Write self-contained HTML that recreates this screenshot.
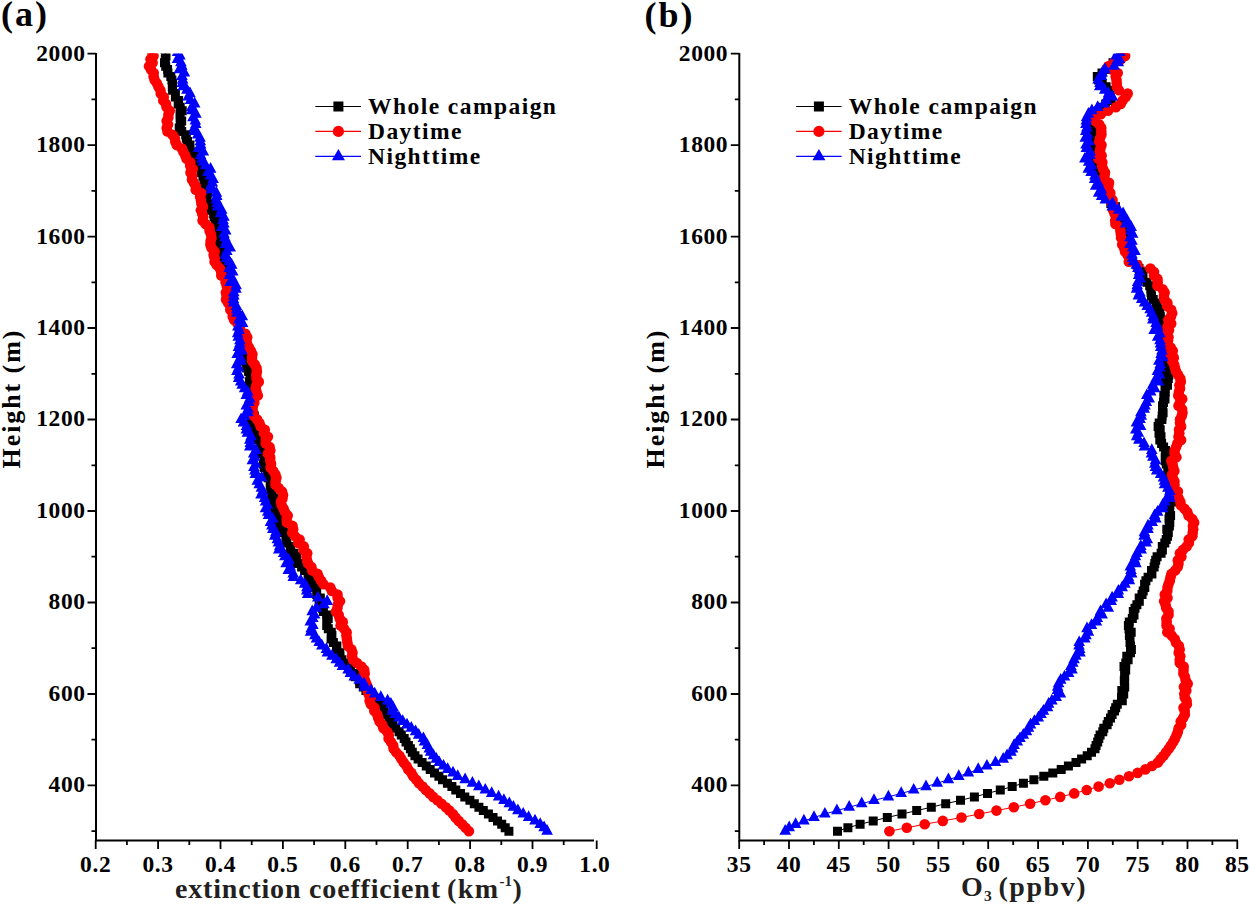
<!DOCTYPE html>
<html><head><meta charset="utf-8"><style>html,body{margin:0;padding:0;background:#fff;width:1250px;height:905px;overflow:hidden}svg{display:block}</style></head>
<body><svg width="1250" height="905" viewBox="0 0 1250 905"><defs><clipPath id="ca"><rect x="90" y="53.6" width="520" height="800"/></clipPath><clipPath id="cb"><rect x="735" y="53.6" width="515" height="800"/></clipPath></defs><style>.tk{font-family:'Liberation Serif',serif;font-weight:bold;font-size:23.5px;letter-spacing:0.6px}.lg{font-family:'Liberation Serif',serif;font-weight:bold;font-size:23.5px;letter-spacing:1.45px}.ti{font-family:'Liberation Serif',serif;font-weight:bold;font-size:28px;fill:#231f20}.yt{font-family:'Liberation Serif',serif;font-weight:bold;font-size:26px}.pl{font-family:'Liberation Serif',serif;font-weight:bold;font-size:36px;letter-spacing:2px}</style><path d="M96 53 V840.4 H594" fill="none" stroke="#000" stroke-width="2"/><path d="M87.5 785.4H96M87.5 694H96M87.5 602.5H96M87.5 511H96M87.5 419.5H96M87.5 328H96M87.5 236.6H96M87.5 145.1H96M87.5 53.6H96M91.5 831.2H96M91.5 739.7H96M91.5 648.2H96M91.5 556.7H96M91.5 465.3H96M91.5 373.8H96M91.5 282.3H96M91.5 190.8H96M91.5 99.3H96M95.7 840.4V848.9M158.1 840.4V848.9M220.5 840.4V848.9M282.9 840.4V848.9M345.3 840.4V848.9M407.7 840.4V848.9M470.1 840.4V848.9M532.5 840.4V848.9M596.7 840.4V848.9M126.9 840.4V844.9M189.3 840.4V844.9M251.7 840.4V844.9M314.1 840.4V844.9M376.5 840.4V844.9M438.9 840.4V844.9M501.3 840.4V844.9M563.7 840.4V844.9" stroke="#000" stroke-width="1.8"/><text x="85.6" y="792.3" text-anchor="end" class="tk">400</text><text x="85.6" y="700.9" text-anchor="end" class="tk">600</text><text x="85.6" y="609.4" text-anchor="end" class="tk">800</text><text x="85.6" y="517.9" text-anchor="end" class="tk">1000</text><text x="85.6" y="426.4" text-anchor="end" class="tk">1200</text><text x="85.6" y="334.9" text-anchor="end" class="tk">1400</text><text x="85.6" y="243.5" text-anchor="end" class="tk">1600</text><text x="85.6" y="152" text-anchor="end" class="tk">1800</text><text x="85.6" y="60.5" text-anchor="end" class="tk">2000</text><text x="95.7" y="871.8" text-anchor="middle" class="tk">0.2</text><text x="158.1" y="871.8" text-anchor="middle" class="tk">0.3</text><text x="220.5" y="871.8" text-anchor="middle" class="tk">0.4</text><text x="282.9" y="871.8" text-anchor="middle" class="tk">0.5</text><text x="345.3" y="871.8" text-anchor="middle" class="tk">0.6</text><text x="407.7" y="871.8" text-anchor="middle" class="tk">0.7</text><text x="470.1" y="871.8" text-anchor="middle" class="tk">0.8</text><text x="532.5" y="871.8" text-anchor="middle" class="tk">0.9</text><text x="594.9" y="871.8" text-anchor="middle" class="tk">1.0</text><path d="M739.3 53 V840.4 H1238" fill="none" stroke="#000" stroke-width="2"/><path d="M730.8 785.4H739.3M730.8 694H739.3M730.8 602.5H739.3M730.8 511H739.3M730.8 419.5H739.3M730.8 328H739.3M730.8 236.6H739.3M730.8 145.1H739.3M730.8 53.6H739.3M734.8 831.2H739.3M734.8 739.7H739.3M734.8 648.2H739.3M734.8 556.7H739.3M734.8 465.3H739.3M734.8 373.8H739.3M734.8 282.3H739.3M734.8 190.8H739.3M734.8 99.3H739.3M739.2 840.4V848.9M789 840.4V848.9M838.8 840.4V848.9M888.6 840.4V848.9M938.4 840.4V848.9M988.2 840.4V848.9M1038.1 840.4V848.9M1087.9 840.4V848.9M1137.7 840.4V848.9M1187.5 840.4V848.9M1237.3 840.4V848.9M764.1 840.4V844.9M813.9 840.4V844.9M863.7 840.4V844.9M913.5 840.4V844.9M963.3 840.4V844.9M1013.2 840.4V844.9M1063 840.4V844.9M1112.8 840.4V844.9M1162.6 840.4V844.9M1212.4 840.4V844.9" stroke="#000" stroke-width="1.8"/><text x="728.2" y="792.3" text-anchor="end" class="tk">400</text><text x="728.2" y="700.9" text-anchor="end" class="tk">600</text><text x="728.2" y="609.4" text-anchor="end" class="tk">800</text><text x="728.2" y="517.9" text-anchor="end" class="tk">1000</text><text x="728.2" y="426.4" text-anchor="end" class="tk">1200</text><text x="728.2" y="334.9" text-anchor="end" class="tk">1400</text><text x="728.2" y="243.5" text-anchor="end" class="tk">1600</text><text x="728.2" y="152" text-anchor="end" class="tk">1800</text><text x="728.2" y="60.5" text-anchor="end" class="tk">2000</text><text x="739.2" y="871.8" text-anchor="middle" class="tk">35</text><text x="789" y="871.8" text-anchor="middle" class="tk">40</text><text x="838.8" y="871.8" text-anchor="middle" class="tk">45</text><text x="888.6" y="871.8" text-anchor="middle" class="tk">50</text><text x="938.4" y="871.8" text-anchor="middle" class="tk">55</text><text x="988.2" y="871.8" text-anchor="middle" class="tk">60</text><text x="1038.1" y="871.8" text-anchor="middle" class="tk">65</text><text x="1087.9" y="871.8" text-anchor="middle" class="tk">70</text><text x="1137.7" y="871.8" text-anchor="middle" class="tk">75</text><text x="1187.5" y="871.8" text-anchor="middle" class="tk">80</text><text x="1237.3" y="871.8" text-anchor="middle" class="tk">85</text><g clip-path="url(#ca)"><polyline fill="none" stroke="#000" stroke-width="1" points="508.9,831.2 505.2,827.7 501.7,824.3 497.5,820.9 493,817.5 488.4,814 483.3,810.6 478.9,807.2 474.3,803.7 469.9,800.3 464.8,796.9 460.5,793.4 455.8,790 451.9,786.6 447.4,783.2 442.5,779.7 438.9,776.3 434.5,772.9 430.2,769.4 426.3,766 422.1,762.6 418.1,759.1 414.9,755.7 412.3,752.3 410.4,748.8 408.4,745.4 406,742 404.2,738.6 401.3,735.1 399.1,731.7 395.6,728.3 393,724.8 390.5,721.4 389,718 386.6,714.5 384.2,711.1 384,707.7 380.8,704.3 377.2,700.8 373.7,697.4 369.3,694 365.9,690.5 363.3,687.1 359.7,683.7 359.4,680.2 355.3,676.8 354.4,673.4 350.4,669.9 350.1,666.5 347.4,663.1 341.9,659.7 340,656.2 339.8,652.8 336.5,649.4 336.9,645.9 333.4,642.5 331.1,639.1 331.9,635.6 331.3,632.2 328.3,628.8 326.7,625.4 326.8,621.9 328.2,618.5 326.6,615.1 323.4,611.6 322.5,608.2 320.6,604.8 319.1,601.3 320.3,597.9 316.7,594.5 316.7,591 314.6,587.6 311.9,584.2 312.1,580.8 308.1,577.3 308.2,573.9 304.6,570.5 301.6,567 297.5,563.6 295.8,560.2 296.5,556.7 294,553.3 290.3,549.9 290.7,546.4 286.8,543 285.9,539.6 286,536.2 283.7,532.7 280.6,529.3 282.7,525.9 278.8,522.4 277.8,519 278.6,515.6 276.1,512.1 275,508.7 273.3,505.3 272.5,501.9 273.5,498.4 271.6,495 272.2,491.6 270.7,488.1 270.2,484.7 271,481.3 268.3,477.8 267.6,474.4 267.6,471 264.2,467.5 263.3,464.1 265.2,460.7 264.1,457.3 261.3,453.8 260.1,450.4 261,447 260.7,443.5 257,440.1 258.6,436.7 257.5,433.2 255.7,429.8 254.3,426.4 252.4,423 251.5,419.5 254.4,416.1 251.6,412.7 253,409.2 251.1,405.8 253.2,402.4 252.3,398.9 251.3,395.5 250.7,392.1 252.2,388.6 249.3,385.2 249.4,381.8 250.1,378.4 250.3,374.9 248.6,371.5 246.6,368.1 248.2,364.6 245,361.2 243.7,357.8 244,354.3 244,350.9 241.9,347.5 241.7,344 241.8,340.6 241.9,337.2 239.6,333.8 239.4,330.3 240.3,326.9 239.6,323.5 237.4,320 236.5,316.6 235.1,313.2 232.8,309.7 231.7,306.3 230.9,302.9 233.4,299.5 231.9,296 232.2,292.6 228.2,289.2 229.8,285.7 228.6,282.3 228.8,278.9 226.2,275.4 227.6,272 223.2,268.6 223.8,265.1 223.6,261.7 223.6,258.3 222.3,254.9 221.6,251.4 221.2,248 220.7,244.6 217.6,241.1 217.8,237.7 217.5,234.3 216.3,230.8 214.4,227.4 215.5,224 215.5,220.6 214.1,217.1 213.6,213.7 211.3,210.3 210.6,206.8 209.2,203.4 205.9,200 207.1,196.5 207.8,193.1 206.8,189.7 205.7,186.2 203.9,182.8 204.6,179.4 202.9,176 201.2,172.5 201.4,169.1 197.5,165.7 198.7,162.2 194.7,158.8 194.9,155.4 192.7,151.9 190,148.5 189.9,145.1 187.5,141.6 186.3,138.2 185.7,134.8 181.7,131.4 179.2,127.9 180.3,124.5 181.7,121.1 180.1,117.6 180,114.2 182.2,110.8 180.2,107.3 178.2,103.9 178.6,100.5 175.4,97.1 175.4,93.6 172.6,90.2 172.3,86.8 172.6,83.3 171.9,79.9 170.8,76.5 167.9,73 167.6,69.6 165.7,66.2 164.5,62.7 165.3,59.3 166,55.9 165.5,52.5 164.4,49 164.8,45.6"/><path fill="#000" d="M504.4 826.7h9v9h-9zM500.7 823.2h9v9h-9zM497.2 819.8h9v9h-9zM493 816.4h9v9h-9zM488.5 813h9v9h-9zM483.9 809.5h9v9h-9zM478.8 806.1h9v9h-9zM474.4 802.7h9v9h-9zM469.8 799.2h9v9h-9zM465.4 795.8h9v9h-9zM460.3 792.4h9v9h-9zM456 788.9h9v9h-9zM451.3 785.5h9v9h-9zM447.4 782.1h9v9h-9zM442.9 778.7h9v9h-9zM438 775.2h9v9h-9zM434.4 771.8h9v9h-9zM430 768.4h9v9h-9zM425.7 764.9h9v9h-9zM421.8 761.5h9v9h-9zM417.6 758.1h9v9h-9zM413.6 754.6h9v9h-9zM410.4 751.2h9v9h-9zM407.8 747.8h9v9h-9zM405.9 744.3h9v9h-9zM403.9 740.9h9v9h-9zM401.5 737.5h9v9h-9zM399.7 734.1h9v9h-9zM396.8 730.6h9v9h-9zM394.6 727.2h9v9h-9zM391.1 723.8h9v9h-9zM388.5 720.3h9v9h-9zM386 716.9h9v9h-9zM384.5 713.5h9v9h-9zM382.1 710h9v9h-9zM379.7 706.6h9v9h-9zM379.5 703.2h9v9h-9zM376.3 699.8h9v9h-9zM372.7 696.3h9v9h-9zM369.2 692.9h9v9h-9zM364.8 689.5h9v9h-9zM361.4 686h9v9h-9zM358.8 682.6h9v9h-9zM355.2 679.2h9v9h-9zM354.9 675.7h9v9h-9zM350.8 672.3h9v9h-9zM349.9 668.9h9v9h-9zM345.9 665.4h9v9h-9zM345.6 662h9v9h-9zM342.9 658.6h9v9h-9zM337.4 655.2h9v9h-9zM335.5 651.7h9v9h-9zM335.3 648.3h9v9h-9zM332 644.9h9v9h-9zM332.4 641.4h9v9h-9zM328.9 638h9v9h-9zM326.6 634.6h9v9h-9zM327.4 631.1h9v9h-9zM326.8 627.7h9v9h-9zM323.8 624.3h9v9h-9zM322.2 620.9h9v9h-9zM322.3 617.4h9v9h-9zM323.7 614h9v9h-9zM322.1 610.6h9v9h-9zM318.9 607.1h9v9h-9zM318 603.7h9v9h-9zM316.1 600.3h9v9h-9zM314.6 596.8h9v9h-9zM315.8 593.4h9v9h-9zM312.2 590h9v9h-9zM312.2 586.5h9v9h-9zM310.1 583.1h9v9h-9zM307.4 579.7h9v9h-9zM307.6 576.3h9v9h-9zM303.6 572.8h9v9h-9zM303.7 569.4h9v9h-9zM300.1 566h9v9h-9zM297.1 562.5h9v9h-9zM293 559.1h9v9h-9zM291.3 555.7h9v9h-9zM292 552.2h9v9h-9zM289.5 548.8h9v9h-9zM285.8 545.4h9v9h-9zM286.2 541.9h9v9h-9zM282.3 538.5h9v9h-9zM281.4 535.1h9v9h-9zM281.5 531.7h9v9h-9zM279.2 528.2h9v9h-9zM276.1 524.8h9v9h-9zM278.2 521.4h9v9h-9zM274.3 517.9h9v9h-9zM273.3 514.5h9v9h-9zM274.1 511.1h9v9h-9zM271.6 507.6h9v9h-9zM270.5 504.2h9v9h-9zM268.8 500.8h9v9h-9zM268 497.4h9v9h-9zM269 493.9h9v9h-9zM267.1 490.5h9v9h-9zM267.7 487.1h9v9h-9zM266.2 483.6h9v9h-9zM265.7 480.2h9v9h-9zM266.5 476.8h9v9h-9zM263.8 473.3h9v9h-9zM263.1 469.9h9v9h-9zM263.1 466.5h9v9h-9zM259.7 463h9v9h-9zM258.8 459.6h9v9h-9zM260.7 456.2h9v9h-9zM259.6 452.8h9v9h-9zM256.8 449.3h9v9h-9zM255.6 445.9h9v9h-9zM256.5 442.5h9v9h-9zM256.2 439h9v9h-9zM252.5 435.6h9v9h-9zM254.1 432.2h9v9h-9zM253 428.7h9v9h-9zM251.2 425.3h9v9h-9zM249.8 421.9h9v9h-9zM247.9 418.5h9v9h-9zM247 415h9v9h-9zM249.9 411.6h9v9h-9zM247.1 408.2h9v9h-9zM248.5 404.7h9v9h-9zM246.6 401.3h9v9h-9zM248.7 397.9h9v9h-9zM247.8 394.4h9v9h-9zM246.8 391h9v9h-9zM246.2 387.6h9v9h-9zM247.7 384.1h9v9h-9zM244.8 380.7h9v9h-9zM244.9 377.3h9v9h-9zM245.6 373.9h9v9h-9zM245.8 370.4h9v9h-9zM244.1 367h9v9h-9zM242.1 363.6h9v9h-9zM243.7 360.1h9v9h-9zM240.5 356.7h9v9h-9zM239.2 353.3h9v9h-9zM239.5 349.8h9v9h-9zM239.5 346.4h9v9h-9zM237.4 343h9v9h-9zM237.2 339.5h9v9h-9zM237.3 336.1h9v9h-9zM237.4 332.7h9v9h-9zM235.1 329.3h9v9h-9zM234.9 325.8h9v9h-9zM235.8 322.4h9v9h-9zM235.1 319h9v9h-9zM232.9 315.5h9v9h-9zM232 312.1h9v9h-9zM230.6 308.7h9v9h-9zM228.3 305.2h9v9h-9zM227.2 301.8h9v9h-9zM226.4 298.4h9v9h-9zM228.9 295h9v9h-9zM227.4 291.5h9v9h-9zM227.7 288.1h9v9h-9zM223.7 284.7h9v9h-9zM225.3 281.2h9v9h-9zM224.1 277.8h9v9h-9zM224.3 274.4h9v9h-9zM221.7 270.9h9v9h-9zM223.1 267.5h9v9h-9zM218.7 264.1h9v9h-9zM219.3 260.6h9v9h-9zM219.1 257.2h9v9h-9zM219.1 253.8h9v9h-9zM217.8 250.4h9v9h-9zM217.1 246.9h9v9h-9zM216.7 243.5h9v9h-9zM216.2 240.1h9v9h-9zM213.1 236.6h9v9h-9zM213.3 233.2h9v9h-9zM213 229.8h9v9h-9zM211.8 226.3h9v9h-9zM209.9 222.9h9v9h-9zM211 219.5h9v9h-9zM211 216.1h9v9h-9zM209.6 212.6h9v9h-9zM209.1 209.2h9v9h-9zM206.8 205.8h9v9h-9zM206.1 202.3h9v9h-9zM204.7 198.9h9v9h-9zM201.4 195.5h9v9h-9zM202.6 192h9v9h-9zM203.3 188.6h9v9h-9zM202.3 185.2h9v9h-9zM201.2 181.7h9v9h-9zM199.4 178.3h9v9h-9zM200.1 174.9h9v9h-9zM198.4 171.5h9v9h-9zM196.7 168h9v9h-9zM196.9 164.6h9v9h-9zM193 161.2h9v9h-9zM194.2 157.7h9v9h-9zM190.2 154.3h9v9h-9zM190.4 150.9h9v9h-9zM188.2 147.4h9v9h-9zM185.5 144h9v9h-9zM185.4 140.6h9v9h-9zM183 137.1h9v9h-9zM181.8 133.7h9v9h-9zM181.2 130.3h9v9h-9zM177.2 126.9h9v9h-9zM174.7 123.4h9v9h-9zM175.8 120h9v9h-9zM177.2 116.6h9v9h-9zM175.6 113.1h9v9h-9zM175.5 109.7h9v9h-9zM177.7 106.3h9v9h-9zM175.7 102.8h9v9h-9zM173.7 99.4h9v9h-9zM174.1 96h9v9h-9zM170.9 92.6h9v9h-9zM170.9 89.1h9v9h-9zM168.1 85.7h9v9h-9zM167.8 82.3h9v9h-9zM168.1 78.8h9v9h-9zM167.4 75.4h9v9h-9zM166.3 72h9v9h-9zM163.4 68.5h9v9h-9zM163.1 65.1h9v9h-9zM161.2 61.7h9v9h-9zM160 58.2h9v9h-9zM160.8 54.8h9v9h-9zM161.5 51.4h9v9h-9zM161 48h9v9h-9zM159.9 44.5h9v9h-9zM160.3 41.1h9v9h-9z"/><polyline fill="none" stroke="#f00" stroke-width="1" points="468.9,831.2 465.6,827.7 462.2,824.3 458.7,820.9 455.6,817.5 452.9,814 449.4,810.6 445.8,807.2 441.6,803.7 437.4,800.3 433.2,796.9 429.7,793.4 425.8,790 422.6,786.6 418.9,783.2 416.3,779.7 413.1,776.3 411.4,772.9 408.3,769.4 406.5,766 403.7,762.6 401.4,759.1 399.5,755.7 396.1,752.3 393.6,748.8 393.2,745.4 391,742 388.6,738.6 388.8,735.1 387.2,731.7 383.4,728.3 382.3,724.8 379.6,721.4 378.2,718 377.3,714.5 374.3,711.1 374.5,707.7 370.8,704.3 369.6,700.8 370.9,697.4 368.5,694 367.8,690.5 367.7,687.1 366.3,683.7 365,680.2 362.5,676.8 364.7,673.4 364.2,669.9 361.4,666.5 357,663.1 353,659.7 352,656.2 352.5,652.8 351.4,649.4 347.9,645.9 347.4,642.5 346.9,639.1 346.4,635.6 346.6,632.2 344.1,628.8 340.6,625.4 342.8,621.9 339.7,618.5 338.7,615.1 336,611.6 337.4,608.2 337.8,604.8 340,601.3 337.6,597.9 337.5,594.5 331.9,591 330.3,587.6 323.5,584.2 321.2,580.8 318.9,577.3 317.6,573.9 312.3,570.5 311.4,567 308.1,563.6 307,560.2 306.4,556.7 307.2,553.3 303.6,549.9 303.8,546.4 298.2,543 299.6,539.6 295,536.2 292.2,532.7 293.2,529.3 292.5,525.9 286.9,522.4 286.6,519 287.7,515.6 284.9,512.1 283.6,508.7 281.7,505.3 280.9,501.9 282.5,498.4 283.1,495 282,491.6 278.7,488.1 275.5,484.7 275.6,481.3 276.4,477.8 275.4,474.4 273.3,471 270.5,467.5 271.1,464.1 270.2,460.7 270.2,457.3 267.9,453.8 270.3,450.4 269.6,447 265.8,443.5 265.8,440.1 267.9,436.7 263.9,433.2 264.8,429.8 260.7,426.4 259.4,423 257.2,419.5 253.8,416.1 253.1,412.7 251.9,409.2 252.9,405.8 254.3,402.4 253.1,398.9 257.8,395.5 256.6,392.1 255.7,388.6 256.4,385.2 258.8,381.8 256.6,378.4 256.3,374.9 256.9,371.5 256.5,368.1 254.8,364.6 252.2,361.2 252,357.8 252.4,354.3 250.9,350.9 249,347.5 247.1,344 246.4,340.6 247.2,337.2 245.4,333.8 239.8,330.3 239.9,326.9 237.6,323.5 234.1,320 232.7,316.6 232.7,313.2 230.3,309.7 230.7,306.3 228.1,302.9 226.1,299.5 226.6,296 225.9,292.6 228.2,289.2 226.7,285.7 225.6,282.3 225.5,278.9 221.3,275.4 221.2,272 220,268.6 216.7,265.1 214.6,261.7 214.7,258.3 213.6,254.9 214.6,251.4 211.5,248 210.4,244.6 210.6,241.1 211.5,237.7 210.9,234.3 209.6,230.8 209.4,227.4 205.5,224 202.6,220.6 203.3,217.1 202.2,213.7 200.9,210.3 203,206.8 201.4,203.4 200.9,200 200.1,196.5 201.4,193.1 195.7,189.7 195.8,186.2 193.9,182.8 192,179.4 192.2,176 190.5,172.5 192.8,169.1 190.2,165.7 190.3,162.2 186.5,158.8 185.3,155.4 183.4,151.9 181.9,148.5 176.7,145.1 175.3,141.6 174.8,138.2 172.4,134.8 167.5,131.4 166.7,127.9 168,124.5 166.7,121.1 168.3,117.6 168.5,114.2 169.7,110.8 166.6,107.3 166,103.9 163.3,100.5 163.8,97.1 160.8,93.6 160.4,90.2 158.5,86.8 156.8,83.3 154.6,79.9 153.6,76.5 153.7,73 151,69.6 149,66.2 152.6,62.7 150.5,59.3 153.5,55.9 152.1,52.5 151.2,49 153.5,45.6"/><g fill="#f00"><circle cx="468.9" cy="831.2" r="5.3"/><circle cx="465.6" cy="827.7" r="5.3"/><circle cx="462.2" cy="824.3" r="5.3"/><circle cx="458.7" cy="820.9" r="5.3"/><circle cx="455.6" cy="817.5" r="5.3"/><circle cx="452.9" cy="814" r="5.3"/><circle cx="449.4" cy="810.6" r="5.3"/><circle cx="445.8" cy="807.2" r="5.3"/><circle cx="441.6" cy="803.7" r="5.3"/><circle cx="437.4" cy="800.3" r="5.3"/><circle cx="433.2" cy="796.9" r="5.3"/><circle cx="429.7" cy="793.4" r="5.3"/><circle cx="425.8" cy="790" r="5.3"/><circle cx="422.6" cy="786.6" r="5.3"/><circle cx="418.9" cy="783.2" r="5.3"/><circle cx="416.3" cy="779.7" r="5.3"/><circle cx="413.1" cy="776.3" r="5.3"/><circle cx="411.4" cy="772.9" r="5.3"/><circle cx="408.3" cy="769.4" r="5.3"/><circle cx="406.5" cy="766" r="5.3"/><circle cx="403.7" cy="762.6" r="5.3"/><circle cx="401.4" cy="759.1" r="5.3"/><circle cx="399.5" cy="755.7" r="5.3"/><circle cx="396.1" cy="752.3" r="5.3"/><circle cx="393.6" cy="748.8" r="5.3"/><circle cx="393.2" cy="745.4" r="5.3"/><circle cx="391" cy="742" r="5.3"/><circle cx="388.6" cy="738.6" r="5.3"/><circle cx="388.8" cy="735.1" r="5.3"/><circle cx="387.2" cy="731.7" r="5.3"/><circle cx="383.4" cy="728.3" r="5.3"/><circle cx="382.3" cy="724.8" r="5.3"/><circle cx="379.6" cy="721.4" r="5.3"/><circle cx="378.2" cy="718" r="5.3"/><circle cx="377.3" cy="714.5" r="5.3"/><circle cx="374.3" cy="711.1" r="5.3"/><circle cx="374.5" cy="707.7" r="5.3"/><circle cx="370.8" cy="704.3" r="5.3"/><circle cx="369.6" cy="700.8" r="5.3"/><circle cx="370.9" cy="697.4" r="5.3"/><circle cx="368.5" cy="694" r="5.3"/><circle cx="367.8" cy="690.5" r="5.3"/><circle cx="367.7" cy="687.1" r="5.3"/><circle cx="366.3" cy="683.7" r="5.3"/><circle cx="365" cy="680.2" r="5.3"/><circle cx="362.5" cy="676.8" r="5.3"/><circle cx="364.7" cy="673.4" r="5.3"/><circle cx="364.2" cy="669.9" r="5.3"/><circle cx="361.4" cy="666.5" r="5.3"/><circle cx="357" cy="663.1" r="5.3"/><circle cx="353" cy="659.7" r="5.3"/><circle cx="352" cy="656.2" r="5.3"/><circle cx="352.5" cy="652.8" r="5.3"/><circle cx="351.4" cy="649.4" r="5.3"/><circle cx="347.9" cy="645.9" r="5.3"/><circle cx="347.4" cy="642.5" r="5.3"/><circle cx="346.9" cy="639.1" r="5.3"/><circle cx="346.4" cy="635.6" r="5.3"/><circle cx="346.6" cy="632.2" r="5.3"/><circle cx="344.1" cy="628.8" r="5.3"/><circle cx="340.6" cy="625.4" r="5.3"/><circle cx="342.8" cy="621.9" r="5.3"/><circle cx="339.7" cy="618.5" r="5.3"/><circle cx="338.7" cy="615.1" r="5.3"/><circle cx="336" cy="611.6" r="5.3"/><circle cx="337.4" cy="608.2" r="5.3"/><circle cx="337.8" cy="604.8" r="5.3"/><circle cx="340" cy="601.3" r="5.3"/><circle cx="337.6" cy="597.9" r="5.3"/><circle cx="337.5" cy="594.5" r="5.3"/><circle cx="331.9" cy="591" r="5.3"/><circle cx="330.3" cy="587.6" r="5.3"/><circle cx="323.5" cy="584.2" r="5.3"/><circle cx="321.2" cy="580.8" r="5.3"/><circle cx="318.9" cy="577.3" r="5.3"/><circle cx="317.6" cy="573.9" r="5.3"/><circle cx="312.3" cy="570.5" r="5.3"/><circle cx="311.4" cy="567" r="5.3"/><circle cx="308.1" cy="563.6" r="5.3"/><circle cx="307" cy="560.2" r="5.3"/><circle cx="306.4" cy="556.7" r="5.3"/><circle cx="307.2" cy="553.3" r="5.3"/><circle cx="303.6" cy="549.9" r="5.3"/><circle cx="303.8" cy="546.4" r="5.3"/><circle cx="298.2" cy="543" r="5.3"/><circle cx="299.6" cy="539.6" r="5.3"/><circle cx="295" cy="536.2" r="5.3"/><circle cx="292.2" cy="532.7" r="5.3"/><circle cx="293.2" cy="529.3" r="5.3"/><circle cx="292.5" cy="525.9" r="5.3"/><circle cx="286.9" cy="522.4" r="5.3"/><circle cx="286.6" cy="519" r="5.3"/><circle cx="287.7" cy="515.6" r="5.3"/><circle cx="284.9" cy="512.1" r="5.3"/><circle cx="283.6" cy="508.7" r="5.3"/><circle cx="281.7" cy="505.3" r="5.3"/><circle cx="280.9" cy="501.9" r="5.3"/><circle cx="282.5" cy="498.4" r="5.3"/><circle cx="283.1" cy="495" r="5.3"/><circle cx="282" cy="491.6" r="5.3"/><circle cx="278.7" cy="488.1" r="5.3"/><circle cx="275.5" cy="484.7" r="5.3"/><circle cx="275.6" cy="481.3" r="5.3"/><circle cx="276.4" cy="477.8" r="5.3"/><circle cx="275.4" cy="474.4" r="5.3"/><circle cx="273.3" cy="471" r="5.3"/><circle cx="270.5" cy="467.5" r="5.3"/><circle cx="271.1" cy="464.1" r="5.3"/><circle cx="270.2" cy="460.7" r="5.3"/><circle cx="270.2" cy="457.3" r="5.3"/><circle cx="267.9" cy="453.8" r="5.3"/><circle cx="270.3" cy="450.4" r="5.3"/><circle cx="269.6" cy="447" r="5.3"/><circle cx="265.8" cy="443.5" r="5.3"/><circle cx="265.8" cy="440.1" r="5.3"/><circle cx="267.9" cy="436.7" r="5.3"/><circle cx="263.9" cy="433.2" r="5.3"/><circle cx="264.8" cy="429.8" r="5.3"/><circle cx="260.7" cy="426.4" r="5.3"/><circle cx="259.4" cy="423" r="5.3"/><circle cx="257.2" cy="419.5" r="5.3"/><circle cx="253.8" cy="416.1" r="5.3"/><circle cx="253.1" cy="412.7" r="5.3"/><circle cx="251.9" cy="409.2" r="5.3"/><circle cx="252.9" cy="405.8" r="5.3"/><circle cx="254.3" cy="402.4" r="5.3"/><circle cx="253.1" cy="398.9" r="5.3"/><circle cx="257.8" cy="395.5" r="5.3"/><circle cx="256.6" cy="392.1" r="5.3"/><circle cx="255.7" cy="388.6" r="5.3"/><circle cx="256.4" cy="385.2" r="5.3"/><circle cx="258.8" cy="381.8" r="5.3"/><circle cx="256.6" cy="378.4" r="5.3"/><circle cx="256.3" cy="374.9" r="5.3"/><circle cx="256.9" cy="371.5" r="5.3"/><circle cx="256.5" cy="368.1" r="5.3"/><circle cx="254.8" cy="364.6" r="5.3"/><circle cx="252.2" cy="361.2" r="5.3"/><circle cx="252" cy="357.8" r="5.3"/><circle cx="252.4" cy="354.3" r="5.3"/><circle cx="250.9" cy="350.9" r="5.3"/><circle cx="249" cy="347.5" r="5.3"/><circle cx="247.1" cy="344" r="5.3"/><circle cx="246.4" cy="340.6" r="5.3"/><circle cx="247.2" cy="337.2" r="5.3"/><circle cx="245.4" cy="333.8" r="5.3"/><circle cx="239.8" cy="330.3" r="5.3"/><circle cx="239.9" cy="326.9" r="5.3"/><circle cx="237.6" cy="323.5" r="5.3"/><circle cx="234.1" cy="320" r="5.3"/><circle cx="232.7" cy="316.6" r="5.3"/><circle cx="232.7" cy="313.2" r="5.3"/><circle cx="230.3" cy="309.7" r="5.3"/><circle cx="230.7" cy="306.3" r="5.3"/><circle cx="228.1" cy="302.9" r="5.3"/><circle cx="226.1" cy="299.5" r="5.3"/><circle cx="226.6" cy="296" r="5.3"/><circle cx="225.9" cy="292.6" r="5.3"/><circle cx="228.2" cy="289.2" r="5.3"/><circle cx="226.7" cy="285.7" r="5.3"/><circle cx="225.6" cy="282.3" r="5.3"/><circle cx="225.5" cy="278.9" r="5.3"/><circle cx="221.3" cy="275.4" r="5.3"/><circle cx="221.2" cy="272" r="5.3"/><circle cx="220" cy="268.6" r="5.3"/><circle cx="216.7" cy="265.1" r="5.3"/><circle cx="214.6" cy="261.7" r="5.3"/><circle cx="214.7" cy="258.3" r="5.3"/><circle cx="213.6" cy="254.9" r="5.3"/><circle cx="214.6" cy="251.4" r="5.3"/><circle cx="211.5" cy="248" r="5.3"/><circle cx="210.4" cy="244.6" r="5.3"/><circle cx="210.6" cy="241.1" r="5.3"/><circle cx="211.5" cy="237.7" r="5.3"/><circle cx="210.9" cy="234.3" r="5.3"/><circle cx="209.6" cy="230.8" r="5.3"/><circle cx="209.4" cy="227.4" r="5.3"/><circle cx="205.5" cy="224" r="5.3"/><circle cx="202.6" cy="220.6" r="5.3"/><circle cx="203.3" cy="217.1" r="5.3"/><circle cx="202.2" cy="213.7" r="5.3"/><circle cx="200.9" cy="210.3" r="5.3"/><circle cx="203" cy="206.8" r="5.3"/><circle cx="201.4" cy="203.4" r="5.3"/><circle cx="200.9" cy="200" r="5.3"/><circle cx="200.1" cy="196.5" r="5.3"/><circle cx="201.4" cy="193.1" r="5.3"/><circle cx="195.7" cy="189.7" r="5.3"/><circle cx="195.8" cy="186.2" r="5.3"/><circle cx="193.9" cy="182.8" r="5.3"/><circle cx="192" cy="179.4" r="5.3"/><circle cx="192.2" cy="176" r="5.3"/><circle cx="190.5" cy="172.5" r="5.3"/><circle cx="192.8" cy="169.1" r="5.3"/><circle cx="190.2" cy="165.7" r="5.3"/><circle cx="190.3" cy="162.2" r="5.3"/><circle cx="186.5" cy="158.8" r="5.3"/><circle cx="185.3" cy="155.4" r="5.3"/><circle cx="183.4" cy="151.9" r="5.3"/><circle cx="181.9" cy="148.5" r="5.3"/><circle cx="176.7" cy="145.1" r="5.3"/><circle cx="175.3" cy="141.6" r="5.3"/><circle cx="174.8" cy="138.2" r="5.3"/><circle cx="172.4" cy="134.8" r="5.3"/><circle cx="167.5" cy="131.4" r="5.3"/><circle cx="166.7" cy="127.9" r="5.3"/><circle cx="168" cy="124.5" r="5.3"/><circle cx="166.7" cy="121.1" r="5.3"/><circle cx="168.3" cy="117.6" r="5.3"/><circle cx="168.5" cy="114.2" r="5.3"/><circle cx="169.7" cy="110.8" r="5.3"/><circle cx="166.6" cy="107.3" r="5.3"/><circle cx="166" cy="103.9" r="5.3"/><circle cx="163.3" cy="100.5" r="5.3"/><circle cx="163.8" cy="97.1" r="5.3"/><circle cx="160.8" cy="93.6" r="5.3"/><circle cx="160.4" cy="90.2" r="5.3"/><circle cx="158.5" cy="86.8" r="5.3"/><circle cx="156.8" cy="83.3" r="5.3"/><circle cx="154.6" cy="79.9" r="5.3"/><circle cx="153.6" cy="76.5" r="5.3"/><circle cx="153.7" cy="73" r="5.3"/><circle cx="151" cy="69.6" r="5.3"/><circle cx="149" cy="66.2" r="5.3"/><circle cx="152.6" cy="62.7" r="5.3"/><circle cx="150.5" cy="59.3" r="5.3"/><circle cx="153.5" cy="55.9" r="5.3"/><circle cx="152.1" cy="52.5" r="5.3"/><circle cx="151.2" cy="49" r="5.3"/><circle cx="153.5" cy="45.6" r="5.3"/></g><polyline fill="none" stroke="#00f" stroke-width="1" points="547.1,831.2 544.1,827.7 540.2,824.3 535,820.9 528.6,817.5 523.2,814 517.9,810.6 513.4,807.2 509.3,803.7 503.9,800.3 498.6,796.9 491.7,793.4 485.3,790 478.8,786.6 472.4,783.2 465.1,779.7 457.7,776.3 453,772.9 447.7,769.4 443.5,766 439.2,762.6 436.3,759.1 433.4,755.7 430.6,752.3 429.3,748.8 427.4,745.4 424.5,742 423.4,738.6 418.7,735.1 415.6,731.7 411.3,728.3 407,724.8 402.7,721.4 398.9,718 395.3,714.5 392.3,711.1 393.1,707.7 390.9,704.3 387.6,700.8 380.8,697.4 374.7,694 371.1,690.5 364.4,687.1 364,683.7 359.2,680.2 354.2,676.8 350.4,673.4 348.1,669.9 342.4,666.5 339.5,663.1 336.3,659.7 332,656.2 327.4,652.8 326.4,649.4 321.9,645.9 319.2,642.5 316.5,639.1 314.9,635.6 310.6,632.2 311.3,628.8 312.9,625.4 310.3,621.9 312.8,618.5 314.6,615.1 312.2,611.6 316.4,608.2 323.9,604.8 327.2,601.3 317.8,597.9 307.7,594.5 306.7,591 306.9,587.6 304.6,584.2 300.7,580.8 293.3,577.3 293.2,573.9 288.3,570.5 290.2,567 286.1,563.6 289,560.2 284.9,556.7 283.7,553.3 278.8,549.9 279.8,546.4 278.4,543 277.3,539.6 274.8,536.2 275.8,532.7 272.8,529.3 271.9,525.9 270.5,522.4 272.8,519 268.5,515.6 267.8,512.1 265.5,508.7 267.4,505.3 265.6,501.9 264.6,498.4 261,495 262.7,491.6 261.4,488.1 259.2,484.7 257.3,481.3 261.7,477.8 255.3,474.4 254.9,471 253.9,467.5 255.6,464.1 252.4,460.7 254.5,457.3 253.7,453.8 256,450.4 249.8,447 250.3,443.5 249.8,440.1 251.1,436.7 247.4,433.2 246.3,429.8 246.5,426.4 243.5,423 241.1,419.5 244.6,416.1 248,412.7 248.1,409.2 246.3,405.8 248.8,402.4 249.7,398.9 246.3,395.5 247.7,392.1 244.6,388.6 242.2,385.2 240.7,381.8 238.7,378.4 239.1,374.9 236.9,371.5 238.6,368.1 236.7,364.6 240.9,361.2 240.3,357.8 237.2,354.3 242,350.9 238.5,347.5 239.8,344 239.9,340.6 238.3,337.2 237.7,333.8 239.1,330.3 237.9,326.9 242.6,323.5 238.8,320 242.3,316.6 237,313.2 236.7,309.7 236.4,306.3 233.6,302.9 233.4,299.5 233.9,296 233.8,292.6 235.9,289.2 236.1,285.7 230.2,282.3 232.6,278.9 229.5,275.4 232.7,272 229.2,268.6 231.7,265.1 229.2,261.7 226.5,258.3 225.6,254.9 226.8,251.4 230.2,248 225.4,244.6 226.4,241.1 224.9,237.7 223.9,234.3 225.7,230.8 221.7,227.4 223.9,224 223,220.6 223.9,217.1 220.6,213.7 221.7,210.3 217.7,206.8 217.3,203.4 216.3,200 216.8,196.5 216.4,193.1 211.3,189.7 210.7,186.2 212.3,182.8 213.1,179.4 210.4,176 207.9,172.5 210.6,169.1 205.7,165.7 203.3,162.2 202,158.8 200.6,155.4 203.3,151.9 198.4,148.5 200.6,145.1 200.3,141.6 200,138.2 197.7,134.8 194.4,131.4 194.4,127.9 195.8,124.5 195.3,121.1 193,117.6 195.9,114.2 191.8,110.8 191.8,107.3 194.7,103.9 190.5,100.5 188.2,97.1 190,93.6 186.9,90.2 183.3,86.8 182.3,83.3 182.6,79.9 182,76.5 184.4,73 179.4,69.6 181.8,66.2 180.9,62.7 177.5,59.3 179.9,55.9 177.6,52.5 175.1,49 172.9,45.6"/><path fill="#00f" d="M547.1 824l5.8 10.7h-11.6zM544.1 820.6l5.8 10.7h-11.6zM540.2 817.2l5.8 10.7h-11.6zM535 813.8l5.8 10.7h-11.6zM528.6 810.3l5.8 10.7h-11.6zM523.2 806.9l5.8 10.7h-11.6zM517.9 803.5l5.8 10.7h-11.6zM513.4 800l5.8 10.7h-11.6zM509.3 796.6l5.8 10.7h-11.6zM503.9 793.2l5.8 10.7h-11.6zM498.6 789.7l5.8 10.7h-11.6zM491.7 786.3l5.8 10.7h-11.6zM485.3 782.9l5.8 10.7h-11.6zM478.8 779.5l5.8 10.7h-11.6zM472.4 776l5.8 10.7h-11.6zM465.1 772.6l5.8 10.7h-11.6zM457.7 769.2l5.8 10.7h-11.6zM453 765.7l5.8 10.7h-11.6zM447.7 762.3l5.8 10.7h-11.6zM443.5 758.9l5.8 10.7h-11.6zM439.2 755.4l5.8 10.7h-11.6zM436.3 752l5.8 10.7h-11.6zM433.4 748.6l5.8 10.7h-11.6zM430.6 745.1l5.8 10.7h-11.6zM429.3 741.7l5.8 10.7h-11.6zM427.4 738.3l5.8 10.7h-11.6zM424.5 734.9l5.8 10.7h-11.6zM423.4 731.4l5.8 10.7h-11.6zM418.7 728l5.8 10.7h-11.6zM415.6 724.6l5.8 10.7h-11.6zM411.3 721.1l5.8 10.7h-11.6zM407 717.7l5.8 10.7h-11.6zM402.7 714.3l5.8 10.7h-11.6zM398.9 710.8l5.8 10.7h-11.6zM395.3 707.4l5.8 10.7h-11.6zM392.3 704l5.8 10.7h-11.6zM393.1 700.5l5.8 10.7h-11.6zM390.9 697.1l5.8 10.7h-11.6zM387.6 693.7l5.8 10.7h-11.6zM380.8 690.3l5.8 10.7h-11.6zM374.7 686.8l5.8 10.7h-11.6zM371.1 683.4l5.8 10.7h-11.6zM364.4 680l5.8 10.7h-11.6zM364 676.5l5.8 10.7h-11.6zM359.2 673.1l5.8 10.7h-11.6zM354.2 669.7l5.8 10.7h-11.6zM350.4 666.2l5.8 10.7h-11.6zM348.1 662.8l5.8 10.7h-11.6zM342.4 659.4l5.8 10.7h-11.6zM339.5 656l5.8 10.7h-11.6zM336.3 652.5l5.8 10.7h-11.6zM332 649.1l5.8 10.7h-11.6zM327.4 645.7l5.8 10.7h-11.6zM326.4 642.2l5.8 10.7h-11.6zM321.9 638.8l5.8 10.7h-11.6zM319.2 635.4l5.8 10.7h-11.6zM316.5 631.9l5.8 10.7h-11.6zM314.9 628.5l5.8 10.7h-11.6zM310.6 625.1l5.8 10.7h-11.6zM311.3 621.6l5.8 10.7h-11.6zM312.9 618.2l5.8 10.7h-11.6zM310.3 614.8l5.8 10.7h-11.6zM312.8 611.4l5.8 10.7h-11.6zM314.6 607.9l5.8 10.7h-11.6zM312.2 604.5l5.8 10.7h-11.6zM316.4 601.1l5.8 10.7h-11.6zM323.9 597.6l5.8 10.7h-11.6zM327.2 594.2l5.8 10.7h-11.6zM317.8 590.8l5.8 10.7h-11.6zM307.7 587.3l5.8 10.7h-11.6zM306.7 583.9l5.8 10.7h-11.6zM306.9 580.5l5.8 10.7h-11.6zM304.6 577.1l5.8 10.7h-11.6zM300.7 573.6l5.8 10.7h-11.6zM293.3 570.2l5.8 10.7h-11.6zM293.2 566.8l5.8 10.7h-11.6zM288.3 563.3l5.8 10.7h-11.6zM290.2 559.9l5.8 10.7h-11.6zM286.1 556.5l5.8 10.7h-11.6zM289 553l5.8 10.7h-11.6zM284.9 549.6l5.8 10.7h-11.6zM283.7 546.2l5.8 10.7h-11.6zM278.8 542.7l5.8 10.7h-11.6zM279.8 539.3l5.8 10.7h-11.6zM278.4 535.9l5.8 10.7h-11.6zM277.3 532.5l5.8 10.7h-11.6zM274.8 529l5.8 10.7h-11.6zM275.8 525.6l5.8 10.7h-11.6zM272.8 522.2l5.8 10.7h-11.6zM271.9 518.7l5.8 10.7h-11.6zM270.5 515.3l5.8 10.7h-11.6zM272.8 511.9l5.8 10.7h-11.6zM268.5 508.4l5.8 10.7h-11.6zM267.8 505l5.8 10.7h-11.6zM265.5 501.6l5.8 10.7h-11.6zM267.4 498.1l5.8 10.7h-11.6zM265.6 494.7l5.8 10.7h-11.6zM264.6 491.3l5.8 10.7h-11.6zM261 487.9l5.8 10.7h-11.6zM262.7 484.4l5.8 10.7h-11.6zM261.4 481l5.8 10.7h-11.6zM259.2 477.6l5.8 10.7h-11.6zM257.3 474.1l5.8 10.7h-11.6zM261.7 470.7l5.8 10.7h-11.6zM255.3 467.3l5.8 10.7h-11.6zM254.9 463.8l5.8 10.7h-11.6zM253.9 460.4l5.8 10.7h-11.6zM255.6 457l5.8 10.7h-11.6zM252.4 453.6l5.8 10.7h-11.6zM254.5 450.1l5.8 10.7h-11.6zM253.7 446.7l5.8 10.7h-11.6zM256 443.3l5.8 10.7h-11.6zM249.8 439.8l5.8 10.7h-11.6zM250.3 436.4l5.8 10.7h-11.6zM249.8 433l5.8 10.7h-11.6zM251.1 429.5l5.8 10.7h-11.6zM247.4 426.1l5.8 10.7h-11.6zM246.3 422.7l5.8 10.7h-11.6zM246.5 419.2l5.8 10.7h-11.6zM243.5 415.8l5.8 10.7h-11.6zM241.1 412.4l5.8 10.7h-11.6zM244.6 409l5.8 10.7h-11.6zM248 405.5l5.8 10.7h-11.6zM248.1 402.1l5.8 10.7h-11.6zM246.3 398.7l5.8 10.7h-11.6zM248.8 395.2l5.8 10.7h-11.6zM249.7 391.8l5.8 10.7h-11.6zM246.3 388.4l5.8 10.7h-11.6zM247.7 384.9l5.8 10.7h-11.6zM244.6 381.5l5.8 10.7h-11.6zM242.2 378.1l5.8 10.7h-11.6zM240.7 374.7l5.8 10.7h-11.6zM238.7 371.2l5.8 10.7h-11.6zM239.1 367.8l5.8 10.7h-11.6zM236.9 364.4l5.8 10.7h-11.6zM238.6 360.9l5.8 10.7h-11.6zM236.7 357.5l5.8 10.7h-11.6zM240.9 354.1l5.8 10.7h-11.6zM240.3 350.6l5.8 10.7h-11.6zM237.2 347.2l5.8 10.7h-11.6zM242 343.8l5.8 10.7h-11.6zM238.5 340.3l5.8 10.7h-11.6zM239.8 336.9l5.8 10.7h-11.6zM239.9 333.5l5.8 10.7h-11.6zM238.3 330.1l5.8 10.7h-11.6zM237.7 326.6l5.8 10.7h-11.6zM239.1 323.2l5.8 10.7h-11.6zM237.9 319.8l5.8 10.7h-11.6zM242.6 316.3l5.8 10.7h-11.6zM238.8 312.9l5.8 10.7h-11.6zM242.3 309.5l5.8 10.7h-11.6zM237 306l5.8 10.7h-11.6zM236.7 302.6l5.8 10.7h-11.6zM236.4 299.2l5.8 10.7h-11.6zM233.6 295.7l5.8 10.7h-11.6zM233.4 292.3l5.8 10.7h-11.6zM233.9 288.9l5.8 10.7h-11.6zM233.8 285.5l5.8 10.7h-11.6zM235.9 282l5.8 10.7h-11.6zM236.1 278.6l5.8 10.7h-11.6zM230.2 275.2l5.8 10.7h-11.6zM232.6 271.7l5.8 10.7h-11.6zM229.5 268.3l5.8 10.7h-11.6zM232.7 264.9l5.8 10.7h-11.6zM229.2 261.4l5.8 10.7h-11.6zM231.7 258l5.8 10.7h-11.6zM229.2 254.6l5.8 10.7h-11.6zM226.5 251.2l5.8 10.7h-11.6zM225.6 247.7l5.8 10.7h-11.6zM226.8 244.3l5.8 10.7h-11.6zM230.2 240.9l5.8 10.7h-11.6zM225.4 237.4l5.8 10.7h-11.6zM226.4 234l5.8 10.7h-11.6zM224.9 230.6l5.8 10.7h-11.6zM223.9 227.1l5.8 10.7h-11.6zM225.7 223.7l5.8 10.7h-11.6zM221.7 220.3l5.8 10.7h-11.6zM223.9 216.8l5.8 10.7h-11.6zM223 213.4l5.8 10.7h-11.6zM223.9 210l5.8 10.7h-11.6zM220.6 206.6l5.8 10.7h-11.6zM221.7 203.1l5.8 10.7h-11.6zM217.7 199.7l5.8 10.7h-11.6zM217.3 196.3l5.8 10.7h-11.6zM216.3 192.8l5.8 10.7h-11.6zM216.8 189.4l5.8 10.7h-11.6zM216.4 186l5.8 10.7h-11.6zM211.3 182.5l5.8 10.7h-11.6zM210.7 179.1l5.8 10.7h-11.6zM212.3 175.7l5.8 10.7h-11.6zM213.1 172.3l5.8 10.7h-11.6zM210.4 168.8l5.8 10.7h-11.6zM207.9 165.4l5.8 10.7h-11.6zM210.6 162l5.8 10.7h-11.6zM205.7 158.5l5.8 10.7h-11.6zM203.3 155.1l5.8 10.7h-11.6zM202 151.7l5.8 10.7h-11.6zM200.6 148.2l5.8 10.7h-11.6zM203.3 144.8l5.8 10.7h-11.6zM198.4 141.4l5.8 10.7h-11.6zM200.6 137.9l5.8 10.7h-11.6zM200.3 134.5l5.8 10.7h-11.6zM200 131.1l5.8 10.7h-11.6zM197.7 127.7l5.8 10.7h-11.6zM194.4 124.2l5.8 10.7h-11.6zM194.4 120.8l5.8 10.7h-11.6zM195.8 117.4l5.8 10.7h-11.6zM195.3 113.9l5.8 10.7h-11.6zM193 110.5l5.8 10.7h-11.6zM195.9 107.1l5.8 10.7h-11.6zM191.8 103.6l5.8 10.7h-11.6zM191.8 100.2l5.8 10.7h-11.6zM194.7 96.8l5.8 10.7h-11.6zM190.5 93.4l5.8 10.7h-11.6zM188.2 89.9l5.8 10.7h-11.6zM190 86.5l5.8 10.7h-11.6zM186.9 83.1l5.8 10.7h-11.6zM183.3 79.6l5.8 10.7h-11.6zM182.3 76.2l5.8 10.7h-11.6zM182.6 72.8l5.8 10.7h-11.6zM182 69.3l5.8 10.7h-11.6zM184.4 65.9l5.8 10.7h-11.6zM179.4 62.5l5.8 10.7h-11.6zM181.8 59l5.8 10.7h-11.6zM180.9 55.6l5.8 10.7h-11.6zM177.5 52.2l5.8 10.7h-11.6zM179.9 48.8l5.8 10.7h-11.6zM177.6 45.3l5.8 10.7h-11.6zM175.1 41.9l5.8 10.7h-11.6zM172.9 38.5l5.8 10.7h-11.6z"/></g><g clip-path="url(#cb)"><polyline fill="none" stroke="#000" stroke-width="1" points="837.5,831.2 847.9,827.7 860.1,824.3 873.2,820.9 887.3,817.5 902,814 916.7,810.6 931.3,807.2 945.7,803.7 960.5,800.3 974.4,796.9 987.5,793.4 1000.3,790 1012.2,786.6 1023.4,783.2 1033.9,779.7 1043.8,776.3 1052.8,772.9 1061.2,769.4 1068.4,766 1076,762.6 1081.6,759.1 1087.2,755.7 1091.5,752.3 1095,748.8 1096.1,745.4 1097.7,742 1098.8,738.6 1100.1,735.1 1102.8,731.7 1103.8,728.3 1107.1,724.8 1108.3,721.4 1110.5,718 1112.1,714.5 1114.5,711.1 1115.7,707.7 1117.3,704.3 1122.3,700.8 1121.5,697.4 1123.7,694 1121.8,690.5 1124.7,687.1 1124.6,683.7 1124.3,680.2 1124.7,676.8 1124.6,673.4 1125.7,669.9 1124,666.5 1125.8,663.1 1128.1,659.7 1126.8,656.2 1130.5,652.8 1131.4,649.4 1130.5,645.9 1130,642.5 1130,639.1 1129.4,635.6 1131.2,632.2 1129,628.8 1128.4,625.4 1129.3,621.9 1132.3,618.5 1134,615.1 1133.3,611.6 1135,608.2 1136.9,604.8 1139.3,601.3 1139.2,597.9 1142,594.5 1143.2,591 1144.8,587.6 1144.6,584.2 1145.9,580.8 1148.1,577.3 1151.9,573.9 1151.5,570.5 1154.1,567 1154.8,563.6 1155.7,560.2 1157.1,556.7 1161.1,553.3 1162.4,549.9 1162.3,546.4 1164.8,543 1166.2,539.6 1167.5,536.2 1168.3,532.7 1166.8,529.3 1169.4,525.9 1169.8,522.4 1169,519 1170.6,515.6 1169.6,512.1 1169.7,508.7 1169.8,505.3 1172.5,501.9 1170.2,498.4 1169.7,495 1172.2,491.6 1171.9,488.1 1170.7,484.7 1171.8,481.3 1168.5,477.8 1168.6,474.4 1168,471 1167.8,467.5 1166.3,464.1 1165.2,460.7 1165.2,457.3 1166.2,453.8 1165.5,450.4 1163.6,447 1161.6,443.5 1159.8,440.1 1161,436.7 1159,433.2 1160.2,429.8 1158.1,426.4 1159.2,423 1161.9,419.5 1162.2,416.1 1163.1,412.7 1162.6,409.2 1162.5,405.8 1163.5,402.4 1165,398.9 1163.8,395.5 1165.3,392.1 1165,388.6 1167.5,385.2 1165.5,381.8 1168.3,378.4 1168.9,374.9 1165.3,371.5 1167,368.1 1166.9,364.6 1167.4,361.2 1166.1,357.8 1164.6,354.3 1164.8,350.9 1166.4,347.5 1165.9,344 1162.7,340.6 1162,337.2 1161.4,333.8 1160.5,330.3 1161.4,326.9 1159.6,323.5 1161.6,320 1160.3,316.6 1158.4,313.2 1159.8,309.7 1157.2,306.3 1156,302.9 1153.2,299.5 1151.5,296 1151,292.6 1150.8,289.2 1149.7,285.7 1146.9,282.3 1142.9,278.9 1143,275.4 1141.5,272 1139,268.6 1136.9,265.1 1131.9,261.7 1131.7,258.3 1129.3,254.9 1131,251.4 1128,248 1129,244.6 1126.4,241.1 1127.2,237.7 1124.7,234.3 1122.5,230.8 1122.4,227.4 1120.9,224 1121.8,220.6 1118.3,217.1 1117.4,213.7 1115.8,210.3 1115.5,206.8 1110.8,203.4 1110.8,200 1108.7,196.5 1107.8,193.1 1106.8,189.7 1102.6,186.2 1102.2,182.8 1099.8,179.4 1098.8,176 1096.3,172.5 1098.2,169.1 1098.1,165.7 1095.1,162.2 1094.2,158.8 1095.9,155.4 1092,151.9 1091.6,148.5 1091.8,145.1 1094.7,141.6 1094.7,138.2 1093.8,134.8 1093.6,131.4 1090.4,127.9 1091.6,124.5 1089.8,121.1 1089.6,117.6 1093.8,114.2 1098.6,110.8 1102.2,107.3 1105.7,103.9 1111.2,100.5 1109.9,97.1 1110.2,93.6 1109.2,90.2 1106.1,86.8 1102.2,83.3 1098.5,79.9 1097.3,76.5 1102,73 1106.9,69.6 1112.1,66.2 1113,62.7 1118.4,59.3 1120.5,55.9 1122,52.5 1123.4,49 1123.8,45.6"/><path fill="#000" d="M833 826.7h9v9h-9zM843.4 823.2h9v9h-9zM855.6 819.8h9v9h-9zM868.7 816.4h9v9h-9zM882.8 813h9v9h-9zM897.5 809.5h9v9h-9zM912.2 806.1h9v9h-9zM926.8 802.7h9v9h-9zM941.2 799.2h9v9h-9zM956 795.8h9v9h-9zM969.9 792.4h9v9h-9zM983 788.9h9v9h-9zM995.8 785.5h9v9h-9zM1007.7 782.1h9v9h-9zM1018.9 778.7h9v9h-9zM1029.4 775.2h9v9h-9zM1039.3 771.8h9v9h-9zM1048.3 768.4h9v9h-9zM1056.7 764.9h9v9h-9zM1063.9 761.5h9v9h-9zM1071.5 758.1h9v9h-9zM1077.1 754.6h9v9h-9zM1082.7 751.2h9v9h-9zM1087 747.8h9v9h-9zM1090.5 744.3h9v9h-9zM1091.6 740.9h9v9h-9zM1093.2 737.5h9v9h-9zM1094.3 734.1h9v9h-9zM1095.6 730.6h9v9h-9zM1098.3 727.2h9v9h-9zM1099.3 723.8h9v9h-9zM1102.6 720.3h9v9h-9zM1103.8 716.9h9v9h-9zM1106 713.5h9v9h-9zM1107.6 710h9v9h-9zM1110 706.6h9v9h-9zM1111.2 703.2h9v9h-9zM1112.8 699.8h9v9h-9zM1117.8 696.3h9v9h-9zM1117 692.9h9v9h-9zM1119.2 689.5h9v9h-9zM1117.3 686h9v9h-9zM1120.2 682.6h9v9h-9zM1120.1 679.2h9v9h-9zM1119.8 675.7h9v9h-9zM1120.2 672.3h9v9h-9zM1120.1 668.9h9v9h-9zM1121.2 665.4h9v9h-9zM1119.5 662h9v9h-9zM1121.3 658.6h9v9h-9zM1123.6 655.2h9v9h-9zM1122.3 651.7h9v9h-9zM1126 648.3h9v9h-9zM1126.9 644.9h9v9h-9zM1126 641.4h9v9h-9zM1125.5 638h9v9h-9zM1125.5 634.6h9v9h-9zM1124.9 631.1h9v9h-9zM1126.7 627.7h9v9h-9zM1124.5 624.3h9v9h-9zM1123.9 620.9h9v9h-9zM1124.8 617.4h9v9h-9zM1127.8 614h9v9h-9zM1129.5 610.6h9v9h-9zM1128.8 607.1h9v9h-9zM1130.5 603.7h9v9h-9zM1132.4 600.3h9v9h-9zM1134.8 596.8h9v9h-9zM1134.7 593.4h9v9h-9zM1137.5 590h9v9h-9zM1138.7 586.5h9v9h-9zM1140.3 583.1h9v9h-9zM1140.1 579.7h9v9h-9zM1141.4 576.3h9v9h-9zM1143.6 572.8h9v9h-9zM1147.4 569.4h9v9h-9zM1147 566h9v9h-9zM1149.6 562.5h9v9h-9zM1150.3 559.1h9v9h-9zM1151.2 555.7h9v9h-9zM1152.6 552.2h9v9h-9zM1156.6 548.8h9v9h-9zM1157.9 545.4h9v9h-9zM1157.8 541.9h9v9h-9zM1160.3 538.5h9v9h-9zM1161.7 535.1h9v9h-9zM1163 531.7h9v9h-9zM1163.8 528.2h9v9h-9zM1162.3 524.8h9v9h-9zM1164.9 521.4h9v9h-9zM1165.3 517.9h9v9h-9zM1164.5 514.5h9v9h-9zM1166.1 511.1h9v9h-9zM1165.1 507.6h9v9h-9zM1165.2 504.2h9v9h-9zM1165.3 500.8h9v9h-9zM1168 497.4h9v9h-9zM1165.7 493.9h9v9h-9zM1165.2 490.5h9v9h-9zM1167.7 487.1h9v9h-9zM1167.4 483.6h9v9h-9zM1166.2 480.2h9v9h-9zM1167.3 476.8h9v9h-9zM1164 473.3h9v9h-9zM1164.1 469.9h9v9h-9zM1163.5 466.5h9v9h-9zM1163.3 463h9v9h-9zM1161.8 459.6h9v9h-9zM1160.7 456.2h9v9h-9zM1160.7 452.8h9v9h-9zM1161.7 449.3h9v9h-9zM1161 445.9h9v9h-9zM1159.1 442.5h9v9h-9zM1157.1 439h9v9h-9zM1155.3 435.6h9v9h-9zM1156.5 432.2h9v9h-9zM1154.5 428.7h9v9h-9zM1155.7 425.3h9v9h-9zM1153.6 421.9h9v9h-9zM1154.7 418.5h9v9h-9zM1157.4 415h9v9h-9zM1157.7 411.6h9v9h-9zM1158.6 408.2h9v9h-9zM1158.1 404.7h9v9h-9zM1158 401.3h9v9h-9zM1159 397.9h9v9h-9zM1160.5 394.4h9v9h-9zM1159.3 391h9v9h-9zM1160.8 387.6h9v9h-9zM1160.5 384.1h9v9h-9zM1163 380.7h9v9h-9zM1161 377.3h9v9h-9zM1163.8 373.9h9v9h-9zM1164.4 370.4h9v9h-9zM1160.8 367h9v9h-9zM1162.5 363.6h9v9h-9zM1162.4 360.1h9v9h-9zM1162.9 356.7h9v9h-9zM1161.6 353.3h9v9h-9zM1160.1 349.8h9v9h-9zM1160.3 346.4h9v9h-9zM1161.9 343h9v9h-9zM1161.4 339.5h9v9h-9zM1158.2 336.1h9v9h-9zM1157.5 332.7h9v9h-9zM1156.9 329.3h9v9h-9zM1156 325.8h9v9h-9zM1156.9 322.4h9v9h-9zM1155.1 319h9v9h-9zM1157.1 315.5h9v9h-9zM1155.8 312.1h9v9h-9zM1153.9 308.7h9v9h-9zM1155.3 305.2h9v9h-9zM1152.7 301.8h9v9h-9zM1151.5 298.4h9v9h-9zM1148.7 295h9v9h-9zM1147 291.5h9v9h-9zM1146.5 288.1h9v9h-9zM1146.3 284.7h9v9h-9zM1145.2 281.2h9v9h-9zM1142.4 277.8h9v9h-9zM1138.4 274.4h9v9h-9zM1138.5 270.9h9v9h-9zM1137 267.5h9v9h-9zM1134.5 264.1h9v9h-9zM1132.4 260.6h9v9h-9zM1127.4 257.2h9v9h-9zM1127.2 253.8h9v9h-9zM1124.8 250.4h9v9h-9zM1126.5 246.9h9v9h-9zM1123.5 243.5h9v9h-9zM1124.5 240.1h9v9h-9zM1121.9 236.6h9v9h-9zM1122.7 233.2h9v9h-9zM1120.2 229.8h9v9h-9zM1118 226.3h9v9h-9zM1117.9 222.9h9v9h-9zM1116.4 219.5h9v9h-9zM1117.3 216.1h9v9h-9zM1113.8 212.6h9v9h-9zM1112.9 209.2h9v9h-9zM1111.3 205.8h9v9h-9zM1111 202.3h9v9h-9zM1106.3 198.9h9v9h-9zM1106.3 195.5h9v9h-9zM1104.2 192h9v9h-9zM1103.3 188.6h9v9h-9zM1102.3 185.2h9v9h-9zM1098.1 181.7h9v9h-9zM1097.7 178.3h9v9h-9zM1095.3 174.9h9v9h-9zM1094.3 171.5h9v9h-9zM1091.8 168h9v9h-9zM1093.7 164.6h9v9h-9zM1093.6 161.2h9v9h-9zM1090.6 157.7h9v9h-9zM1089.7 154.3h9v9h-9zM1091.4 150.9h9v9h-9zM1087.5 147.4h9v9h-9zM1087.1 144h9v9h-9zM1087.3 140.6h9v9h-9zM1090.2 137.1h9v9h-9zM1090.2 133.7h9v9h-9zM1089.3 130.3h9v9h-9zM1089.1 126.9h9v9h-9zM1085.9 123.4h9v9h-9zM1087.1 120h9v9h-9zM1085.3 116.6h9v9h-9zM1085.1 113.1h9v9h-9zM1089.3 109.7h9v9h-9zM1094.1 106.3h9v9h-9zM1097.7 102.8h9v9h-9zM1101.2 99.4h9v9h-9zM1106.7 96h9v9h-9zM1105.4 92.6h9v9h-9zM1105.7 89.1h9v9h-9zM1104.7 85.7h9v9h-9zM1101.6 82.3h9v9h-9zM1097.7 78.8h9v9h-9zM1094 75.4h9v9h-9zM1092.8 72h9v9h-9zM1097.5 68.5h9v9h-9zM1102.4 65.1h9v9h-9zM1107.6 61.7h9v9h-9zM1108.5 58.2h9v9h-9zM1113.9 54.8h9v9h-9zM1116 51.4h9v9h-9zM1117.5 48h9v9h-9zM1118.9 44.5h9v9h-9zM1119.3 41.1h9v9h-9z"/><polyline fill="none" stroke="#f00" stroke-width="1" points="889.4,831.2 906.8,827.7 924.7,824.3 942.8,820.9 961.5,817.5 979.2,814 996.5,810.6 1013.8,807.2 1030.1,803.7 1045.4,800.3 1060.2,796.9 1074.2,793.4 1086.7,790 1098.6,786.6 1109.8,783.2 1119.4,779.7 1129,776.3 1137.6,772.9 1145.3,769.4 1152,766 1157.8,762.6 1160.6,759.1 1163.5,755.7 1166.1,752.3 1168.7,748.8 1170.9,745.4 1173.2,742 1175,738.6 1176.6,735.1 1177.9,731.7 1178.6,728.3 1181.2,724.8 1180.7,721.4 1183.1,718 1184.8,714.5 1184.7,711.1 1183.5,707.7 1186.9,704.3 1186.6,700.8 1184.8,697.4 1184.3,694 1186.3,690.5 1183.9,687.1 1187.7,683.7 1185.7,680.2 1184.9,676.8 1183.4,673.4 1183.5,669.9 1183.6,666.5 1179.8,663.1 1179.7,659.7 1180.3,656.2 1178.7,652.8 1179.7,649.4 1178.9,645.9 1176,642.5 1174.7,639.1 1171.7,635.6 1167.3,632.2 1169.6,628.8 1166.5,625.4 1166.7,621.9 1166.4,618.5 1168.5,615.1 1168.5,611.6 1166.3,608.2 1165.6,604.8 1164.1,601.3 1167.5,597.9 1164.8,594.5 1167.3,591 1167.5,587.6 1168.5,584.2 1169.8,580.8 1170.5,577.3 1171.4,573.9 1175.1,570.5 1177.7,567 1178.5,563.6 1177.8,560.2 1181.4,556.7 1179.9,553.3 1182.9,549.9 1186.6,546.4 1188.9,543 1188.7,539.6 1192.3,536.2 1192.7,532.7 1193.2,529.3 1192.9,525.9 1194.1,522.4 1192.2,519 1188.5,515.6 1187.3,512.1 1184.5,508.7 1180.8,505.3 1180.4,501.9 1178.7,498.4 1177.1,495 1177.9,491.6 1173,488.1 1174.5,484.7 1174.4,481.3 1172.8,477.8 1172,474.4 1174.4,471 1173.2,467.5 1172.5,464.1 1171.4,460.7 1176.4,457.3 1174.6,453.8 1174.6,450.4 1176.1,447 1177.3,443.5 1181.1,440.1 1178.5,436.7 1179.3,433.2 1179,429.8 1181.1,426.4 1180,423 1180,419.5 1181.7,416.1 1182.5,412.7 1182.1,409.2 1178.5,405.8 1180,402.4 1182.2,398.9 1178.3,395.5 1178.9,392.1 1180,388.6 1179.4,385.2 1180.8,381.8 1180.3,378.4 1178.1,374.9 1176.1,371.5 1175,368.1 1174.1,364.6 1172.2,361.2 1173.8,357.8 1170.5,354.3 1172.8,350.9 1170.7,347.5 1167,344 1168,340.6 1168.5,337.2 1166.5,333.8 1169,330.3 1167.4,326.9 1171.2,323.5 1168.3,320 1170.9,316.6 1172.2,313.2 1171.2,309.7 1167.3,306.3 1167.4,302.9 1164.4,299.5 1163.9,296 1164.6,292.6 1162.6,289.2 1157.4,285.7 1157.7,282.3 1157.5,278.9 1154,275.4 1154,272 1150.4,268.6 1137.5,265.1 1128.8,261.7 1130,258.3 1127.5,254.9 1125,251.4 1124.1,248 1122.2,244.6 1123.8,241.1 1121.1,237.7 1120.9,234.3 1120.4,230.8 1120.1,227.4 1115.4,224 1115.2,220.6 1116.1,217.1 1114.6,213.7 1113.1,210.3 1114.4,206.8 1112.5,203.4 1112.5,200 1110.2,196.5 1110.3,193.1 1108.3,189.7 1108.3,186.2 1109,182.8 1104,179.4 1104.5,176 1105,172.5 1103.1,169.1 1102,165.7 1102.3,162.2 1098.2,158.8 1101.6,155.4 1099.7,151.9 1100.4,148.5 1101.5,145.1 1099.2,141.6 1100,138.2 1101.4,134.8 1101.3,131.4 1101.3,127.9 1099.3,124.5 1095.1,121.1 1094.1,117.6 1100.9,114.2 1108,110.8 1115.9,107.3 1120.7,103.9 1122.6,100.5 1125.7,97.1 1127.7,93.6 1118.9,90.2 1116.9,86.8 1116.7,83.3 1116.5,79.9 1115.7,76.5 1117.7,73 1112.1,69.6 1108.2,66.2 1113.7,62.7 1121,59.3 1125.1,55.9 1124.5,52.5 1123.8,49 1125.2,45.6"/><g fill="#f00"><circle cx="889.4" cy="831.2" r="5.3"/><circle cx="906.8" cy="827.7" r="5.3"/><circle cx="924.7" cy="824.3" r="5.3"/><circle cx="942.8" cy="820.9" r="5.3"/><circle cx="961.5" cy="817.5" r="5.3"/><circle cx="979.2" cy="814" r="5.3"/><circle cx="996.5" cy="810.6" r="5.3"/><circle cx="1013.8" cy="807.2" r="5.3"/><circle cx="1030.1" cy="803.7" r="5.3"/><circle cx="1045.4" cy="800.3" r="5.3"/><circle cx="1060.2" cy="796.9" r="5.3"/><circle cx="1074.2" cy="793.4" r="5.3"/><circle cx="1086.7" cy="790" r="5.3"/><circle cx="1098.6" cy="786.6" r="5.3"/><circle cx="1109.8" cy="783.2" r="5.3"/><circle cx="1119.4" cy="779.7" r="5.3"/><circle cx="1129" cy="776.3" r="5.3"/><circle cx="1137.6" cy="772.9" r="5.3"/><circle cx="1145.3" cy="769.4" r="5.3"/><circle cx="1152" cy="766" r="5.3"/><circle cx="1157.8" cy="762.6" r="5.3"/><circle cx="1160.6" cy="759.1" r="5.3"/><circle cx="1163.5" cy="755.7" r="5.3"/><circle cx="1166.1" cy="752.3" r="5.3"/><circle cx="1168.7" cy="748.8" r="5.3"/><circle cx="1170.9" cy="745.4" r="5.3"/><circle cx="1173.2" cy="742" r="5.3"/><circle cx="1175" cy="738.6" r="5.3"/><circle cx="1176.6" cy="735.1" r="5.3"/><circle cx="1177.9" cy="731.7" r="5.3"/><circle cx="1178.6" cy="728.3" r="5.3"/><circle cx="1181.2" cy="724.8" r="5.3"/><circle cx="1180.7" cy="721.4" r="5.3"/><circle cx="1183.1" cy="718" r="5.3"/><circle cx="1184.8" cy="714.5" r="5.3"/><circle cx="1184.7" cy="711.1" r="5.3"/><circle cx="1183.5" cy="707.7" r="5.3"/><circle cx="1186.9" cy="704.3" r="5.3"/><circle cx="1186.6" cy="700.8" r="5.3"/><circle cx="1184.8" cy="697.4" r="5.3"/><circle cx="1184.3" cy="694" r="5.3"/><circle cx="1186.3" cy="690.5" r="5.3"/><circle cx="1183.9" cy="687.1" r="5.3"/><circle cx="1187.7" cy="683.7" r="5.3"/><circle cx="1185.7" cy="680.2" r="5.3"/><circle cx="1184.9" cy="676.8" r="5.3"/><circle cx="1183.4" cy="673.4" r="5.3"/><circle cx="1183.5" cy="669.9" r="5.3"/><circle cx="1183.6" cy="666.5" r="5.3"/><circle cx="1179.8" cy="663.1" r="5.3"/><circle cx="1179.7" cy="659.7" r="5.3"/><circle cx="1180.3" cy="656.2" r="5.3"/><circle cx="1178.7" cy="652.8" r="5.3"/><circle cx="1179.7" cy="649.4" r="5.3"/><circle cx="1178.9" cy="645.9" r="5.3"/><circle cx="1176" cy="642.5" r="5.3"/><circle cx="1174.7" cy="639.1" r="5.3"/><circle cx="1171.7" cy="635.6" r="5.3"/><circle cx="1167.3" cy="632.2" r="5.3"/><circle cx="1169.6" cy="628.8" r="5.3"/><circle cx="1166.5" cy="625.4" r="5.3"/><circle cx="1166.7" cy="621.9" r="5.3"/><circle cx="1166.4" cy="618.5" r="5.3"/><circle cx="1168.5" cy="615.1" r="5.3"/><circle cx="1168.5" cy="611.6" r="5.3"/><circle cx="1166.3" cy="608.2" r="5.3"/><circle cx="1165.6" cy="604.8" r="5.3"/><circle cx="1164.1" cy="601.3" r="5.3"/><circle cx="1167.5" cy="597.9" r="5.3"/><circle cx="1164.8" cy="594.5" r="5.3"/><circle cx="1167.3" cy="591" r="5.3"/><circle cx="1167.5" cy="587.6" r="5.3"/><circle cx="1168.5" cy="584.2" r="5.3"/><circle cx="1169.8" cy="580.8" r="5.3"/><circle cx="1170.5" cy="577.3" r="5.3"/><circle cx="1171.4" cy="573.9" r="5.3"/><circle cx="1175.1" cy="570.5" r="5.3"/><circle cx="1177.7" cy="567" r="5.3"/><circle cx="1178.5" cy="563.6" r="5.3"/><circle cx="1177.8" cy="560.2" r="5.3"/><circle cx="1181.4" cy="556.7" r="5.3"/><circle cx="1179.9" cy="553.3" r="5.3"/><circle cx="1182.9" cy="549.9" r="5.3"/><circle cx="1186.6" cy="546.4" r="5.3"/><circle cx="1188.9" cy="543" r="5.3"/><circle cx="1188.7" cy="539.6" r="5.3"/><circle cx="1192.3" cy="536.2" r="5.3"/><circle cx="1192.7" cy="532.7" r="5.3"/><circle cx="1193.2" cy="529.3" r="5.3"/><circle cx="1192.9" cy="525.9" r="5.3"/><circle cx="1194.1" cy="522.4" r="5.3"/><circle cx="1192.2" cy="519" r="5.3"/><circle cx="1188.5" cy="515.6" r="5.3"/><circle cx="1187.3" cy="512.1" r="5.3"/><circle cx="1184.5" cy="508.7" r="5.3"/><circle cx="1180.8" cy="505.3" r="5.3"/><circle cx="1180.4" cy="501.9" r="5.3"/><circle cx="1178.7" cy="498.4" r="5.3"/><circle cx="1177.1" cy="495" r="5.3"/><circle cx="1177.9" cy="491.6" r="5.3"/><circle cx="1173" cy="488.1" r="5.3"/><circle cx="1174.5" cy="484.7" r="5.3"/><circle cx="1174.4" cy="481.3" r="5.3"/><circle cx="1172.8" cy="477.8" r="5.3"/><circle cx="1172" cy="474.4" r="5.3"/><circle cx="1174.4" cy="471" r="5.3"/><circle cx="1173.2" cy="467.5" r="5.3"/><circle cx="1172.5" cy="464.1" r="5.3"/><circle cx="1171.4" cy="460.7" r="5.3"/><circle cx="1176.4" cy="457.3" r="5.3"/><circle cx="1174.6" cy="453.8" r="5.3"/><circle cx="1174.6" cy="450.4" r="5.3"/><circle cx="1176.1" cy="447" r="5.3"/><circle cx="1177.3" cy="443.5" r="5.3"/><circle cx="1181.1" cy="440.1" r="5.3"/><circle cx="1178.5" cy="436.7" r="5.3"/><circle cx="1179.3" cy="433.2" r="5.3"/><circle cx="1179" cy="429.8" r="5.3"/><circle cx="1181.1" cy="426.4" r="5.3"/><circle cx="1180" cy="423" r="5.3"/><circle cx="1180" cy="419.5" r="5.3"/><circle cx="1181.7" cy="416.1" r="5.3"/><circle cx="1182.5" cy="412.7" r="5.3"/><circle cx="1182.1" cy="409.2" r="5.3"/><circle cx="1178.5" cy="405.8" r="5.3"/><circle cx="1180" cy="402.4" r="5.3"/><circle cx="1182.2" cy="398.9" r="5.3"/><circle cx="1178.3" cy="395.5" r="5.3"/><circle cx="1178.9" cy="392.1" r="5.3"/><circle cx="1180" cy="388.6" r="5.3"/><circle cx="1179.4" cy="385.2" r="5.3"/><circle cx="1180.8" cy="381.8" r="5.3"/><circle cx="1180.3" cy="378.4" r="5.3"/><circle cx="1178.1" cy="374.9" r="5.3"/><circle cx="1176.1" cy="371.5" r="5.3"/><circle cx="1175" cy="368.1" r="5.3"/><circle cx="1174.1" cy="364.6" r="5.3"/><circle cx="1172.2" cy="361.2" r="5.3"/><circle cx="1173.8" cy="357.8" r="5.3"/><circle cx="1170.5" cy="354.3" r="5.3"/><circle cx="1172.8" cy="350.9" r="5.3"/><circle cx="1170.7" cy="347.5" r="5.3"/><circle cx="1167" cy="344" r="5.3"/><circle cx="1168" cy="340.6" r="5.3"/><circle cx="1168.5" cy="337.2" r="5.3"/><circle cx="1166.5" cy="333.8" r="5.3"/><circle cx="1169" cy="330.3" r="5.3"/><circle cx="1167.4" cy="326.9" r="5.3"/><circle cx="1171.2" cy="323.5" r="5.3"/><circle cx="1168.3" cy="320" r="5.3"/><circle cx="1170.9" cy="316.6" r="5.3"/><circle cx="1172.2" cy="313.2" r="5.3"/><circle cx="1171.2" cy="309.7" r="5.3"/><circle cx="1167.3" cy="306.3" r="5.3"/><circle cx="1167.4" cy="302.9" r="5.3"/><circle cx="1164.4" cy="299.5" r="5.3"/><circle cx="1163.9" cy="296" r="5.3"/><circle cx="1164.6" cy="292.6" r="5.3"/><circle cx="1162.6" cy="289.2" r="5.3"/><circle cx="1157.4" cy="285.7" r="5.3"/><circle cx="1157.7" cy="282.3" r="5.3"/><circle cx="1157.5" cy="278.9" r="5.3"/><circle cx="1154" cy="275.4" r="5.3"/><circle cx="1154" cy="272" r="5.3"/><circle cx="1150.4" cy="268.6" r="5.3"/><circle cx="1137.5" cy="265.1" r="5.3"/><circle cx="1128.8" cy="261.7" r="5.3"/><circle cx="1130" cy="258.3" r="5.3"/><circle cx="1127.5" cy="254.9" r="5.3"/><circle cx="1125" cy="251.4" r="5.3"/><circle cx="1124.1" cy="248" r="5.3"/><circle cx="1122.2" cy="244.6" r="5.3"/><circle cx="1123.8" cy="241.1" r="5.3"/><circle cx="1121.1" cy="237.7" r="5.3"/><circle cx="1120.9" cy="234.3" r="5.3"/><circle cx="1120.4" cy="230.8" r="5.3"/><circle cx="1120.1" cy="227.4" r="5.3"/><circle cx="1115.4" cy="224" r="5.3"/><circle cx="1115.2" cy="220.6" r="5.3"/><circle cx="1116.1" cy="217.1" r="5.3"/><circle cx="1114.6" cy="213.7" r="5.3"/><circle cx="1113.1" cy="210.3" r="5.3"/><circle cx="1114.4" cy="206.8" r="5.3"/><circle cx="1112.5" cy="203.4" r="5.3"/><circle cx="1112.5" cy="200" r="5.3"/><circle cx="1110.2" cy="196.5" r="5.3"/><circle cx="1110.3" cy="193.1" r="5.3"/><circle cx="1108.3" cy="189.7" r="5.3"/><circle cx="1108.3" cy="186.2" r="5.3"/><circle cx="1109" cy="182.8" r="5.3"/><circle cx="1104" cy="179.4" r="5.3"/><circle cx="1104.5" cy="176" r="5.3"/><circle cx="1105" cy="172.5" r="5.3"/><circle cx="1103.1" cy="169.1" r="5.3"/><circle cx="1102" cy="165.7" r="5.3"/><circle cx="1102.3" cy="162.2" r="5.3"/><circle cx="1098.2" cy="158.8" r="5.3"/><circle cx="1101.6" cy="155.4" r="5.3"/><circle cx="1099.7" cy="151.9" r="5.3"/><circle cx="1100.4" cy="148.5" r="5.3"/><circle cx="1101.5" cy="145.1" r="5.3"/><circle cx="1099.2" cy="141.6" r="5.3"/><circle cx="1100" cy="138.2" r="5.3"/><circle cx="1101.4" cy="134.8" r="5.3"/><circle cx="1101.3" cy="131.4" r="5.3"/><circle cx="1101.3" cy="127.9" r="5.3"/><circle cx="1099.3" cy="124.5" r="5.3"/><circle cx="1095.1" cy="121.1" r="5.3"/><circle cx="1094.1" cy="117.6" r="5.3"/><circle cx="1100.9" cy="114.2" r="5.3"/><circle cx="1108" cy="110.8" r="5.3"/><circle cx="1115.9" cy="107.3" r="5.3"/><circle cx="1120.7" cy="103.9" r="5.3"/><circle cx="1122.6" cy="100.5" r="5.3"/><circle cx="1125.7" cy="97.1" r="5.3"/><circle cx="1127.7" cy="93.6" r="5.3"/><circle cx="1118.9" cy="90.2" r="5.3"/><circle cx="1116.9" cy="86.8" r="5.3"/><circle cx="1116.7" cy="83.3" r="5.3"/><circle cx="1116.5" cy="79.9" r="5.3"/><circle cx="1115.7" cy="76.5" r="5.3"/><circle cx="1117.7" cy="73" r="5.3"/><circle cx="1112.1" cy="69.6" r="5.3"/><circle cx="1108.2" cy="66.2" r="5.3"/><circle cx="1113.7" cy="62.7" r="5.3"/><circle cx="1121" cy="59.3" r="5.3"/><circle cx="1125.1" cy="55.9" r="5.3"/><circle cx="1124.5" cy="52.5" r="5.3"/><circle cx="1123.8" cy="49" r="5.3"/><circle cx="1125.2" cy="45.6" r="5.3"/></g><polyline fill="none" stroke="#00f" stroke-width="1" points="785.2,831.2 789.2,827.7 795.6,824.3 803.9,820.9 814,817.5 824.9,814 836.9,810.6 849.2,807.2 861.7,803.7 874,800.3 888.4,796.9 901.2,793.4 913.7,790 926,786.6 937.2,783.2 948.4,779.7 958.8,776.3 968.4,772.9 978.2,769.4 986.9,766 995.5,762.6 1003.2,759.1 1007.1,755.7 1011,752.3 1012.6,748.8 1014.1,745.4 1017.3,742 1020,738.6 1023.3,735.1 1026.5,731.7 1028.5,728.3 1030.5,724.8 1034.4,721.4 1038.3,718 1041,714.5 1043.4,711.1 1047.5,707.7 1048.6,704.3 1051.9,700.8 1056.2,697.4 1060.4,694 1057.5,690.5 1057.7,687.1 1058.6,683.7 1060.7,680.2 1064.5,676.8 1068.6,673.4 1072,669.9 1070.9,666.5 1072.8,663.1 1074.1,659.7 1075.9,656.2 1080,652.8 1079.7,649.4 1079,645.9 1079.2,642.5 1084.8,639.1 1086,635.6 1088.4,632.2 1087,628.8 1091.5,625.4 1096.4,621.9 1097.3,618.5 1102.1,615.1 1100.5,611.6 1108.3,608.2 1106.1,604.8 1111.2,601.3 1112.1,597.9 1118.3,594.5 1118.4,591 1122.2,587.6 1124.9,584.2 1129.4,580.8 1128.4,577.3 1131.7,573.9 1131,570.5 1130.3,567 1135.9,563.6 1134.6,560.2 1135.5,556.7 1136.9,553.3 1141.2,549.9 1140.8,546.4 1146.1,543 1147.3,539.6 1144.1,536.2 1144.4,532.7 1148,529.3 1148,525.9 1152.2,522.4 1155.8,519 1154.6,515.6 1157.6,512.1 1162.6,508.7 1162.7,505.3 1164.9,501.9 1169.9,498.4 1169.4,495 1169.9,491.6 1167.9,488.1 1164.6,484.7 1164.5,481.3 1163.5,477.8 1160.7,474.4 1156.7,471 1155.5,467.5 1154.8,464.1 1155.5,460.7 1152.9,457.3 1151.5,453.8 1151.8,450.4 1144.5,447 1144,443.5 1138.9,440.1 1136.7,436.7 1138.3,433.2 1135.8,429.8 1140.6,426.4 1136.5,423 1140.1,419.5 1141.3,416.1 1140.9,412.7 1144.2,409.2 1145,405.8 1146.3,402.4 1149.2,398.9 1146.8,395.5 1150.7,392.1 1154.7,388.6 1152.7,385.2 1158.6,381.8 1156.2,378.4 1159.6,374.9 1157.4,371.5 1159.7,368.1 1160.2,364.6 1158.9,361.2 1162.7,357.8 1161.1,354.3 1161.9,350.9 1160.7,347.5 1160.5,344 1160,340.6 1157.7,337.2 1159.9,333.8 1154.1,330.3 1157.4,326.9 1156.1,323.5 1152.8,320 1153.3,316.6 1151.6,313.2 1150.1,309.7 1147.2,306.3 1144.6,302.9 1141.7,299.5 1138.4,296 1139.8,292.6 1136.6,289.2 1137.2,285.7 1137.7,282.3 1140.3,278.9 1138.7,275.4 1139.5,272 1137.9,268.6 1136.3,265.1 1133.6,261.7 1132.6,258.3 1131.9,254.9 1135,251.4 1132.6,248 1130,244.6 1132,241.1 1130,237.7 1132.6,234.3 1130.9,230.8 1131.2,227.4 1125.7,224 1127.1,220.6 1121.3,217.1 1123.1,213.7 1118.7,210.3 1112.2,206.8 1112.5,203.4 1105.3,200 1101.6,196.5 1098.7,193.1 1101.3,189.7 1095.7,186.2 1098.1,182.8 1094.7,179.4 1094.9,176 1091.1,172.5 1088.3,169.1 1091.6,165.7 1088.7,162.2 1084.9,158.8 1090,155.4 1090.1,151.9 1086.4,148.5 1086,145.1 1089.1,141.6 1085.3,138.2 1087.7,134.8 1085.8,131.4 1086.9,127.9 1085.9,124.5 1086.3,121.1 1086.6,117.6 1088.4,114.2 1091.9,110.8 1097.7,107.3 1103.9,103.9 1106.2,100.5 1112.4,97.1 1108.6,93.6 1104.7,90.2 1099.7,86.8 1100,83.3 1098.1,79.9 1101.4,76.5 1102.1,73 1105,69.6 1114.1,66.2 1118.3,62.7 1119.4,59.3 1116.1,55.9 1119.9,52.5 1120.9,49 1121.3,45.6"/><path fill="#00f" d="M785.2 824l5.8 10.7h-11.6zM789.2 820.6l5.8 10.7h-11.6zM795.6 817.2l5.8 10.7h-11.6zM803.9 813.8l5.8 10.7h-11.6zM814 810.3l5.8 10.7h-11.6zM824.9 806.9l5.8 10.7h-11.6zM836.9 803.5l5.8 10.7h-11.6zM849.2 800l5.8 10.7h-11.6zM861.7 796.6l5.8 10.7h-11.6zM874 793.2l5.8 10.7h-11.6zM888.4 789.7l5.8 10.7h-11.6zM901.2 786.3l5.8 10.7h-11.6zM913.7 782.9l5.8 10.7h-11.6zM926 779.5l5.8 10.7h-11.6zM937.2 776l5.8 10.7h-11.6zM948.4 772.6l5.8 10.7h-11.6zM958.8 769.2l5.8 10.7h-11.6zM968.4 765.7l5.8 10.7h-11.6zM978.2 762.3l5.8 10.7h-11.6zM986.9 758.9l5.8 10.7h-11.6zM995.5 755.4l5.8 10.7h-11.6zM1003.2 752l5.8 10.7h-11.6zM1007.1 748.6l5.8 10.7h-11.6zM1011 745.1l5.8 10.7h-11.6zM1012.6 741.7l5.8 10.7h-11.6zM1014.1 738.3l5.8 10.7h-11.6zM1017.3 734.9l5.8 10.7h-11.6zM1020 731.4l5.8 10.7h-11.6zM1023.3 728l5.8 10.7h-11.6zM1026.5 724.6l5.8 10.7h-11.6zM1028.5 721.1l5.8 10.7h-11.6zM1030.5 717.7l5.8 10.7h-11.6zM1034.4 714.3l5.8 10.7h-11.6zM1038.3 710.8l5.8 10.7h-11.6zM1041 707.4l5.8 10.7h-11.6zM1043.4 704l5.8 10.7h-11.6zM1047.5 700.5l5.8 10.7h-11.6zM1048.6 697.1l5.8 10.7h-11.6zM1051.9 693.7l5.8 10.7h-11.6zM1056.2 690.3l5.8 10.7h-11.6zM1060.4 686.8l5.8 10.7h-11.6zM1057.5 683.4l5.8 10.7h-11.6zM1057.7 680l5.8 10.7h-11.6zM1058.6 676.5l5.8 10.7h-11.6zM1060.7 673.1l5.8 10.7h-11.6zM1064.5 669.7l5.8 10.7h-11.6zM1068.6 666.2l5.8 10.7h-11.6zM1072 662.8l5.8 10.7h-11.6zM1070.9 659.4l5.8 10.7h-11.6zM1072.8 656l5.8 10.7h-11.6zM1074.1 652.5l5.8 10.7h-11.6zM1075.9 649.1l5.8 10.7h-11.6zM1080 645.7l5.8 10.7h-11.6zM1079.7 642.2l5.8 10.7h-11.6zM1079 638.8l5.8 10.7h-11.6zM1079.2 635.4l5.8 10.7h-11.6zM1084.8 631.9l5.8 10.7h-11.6zM1086 628.5l5.8 10.7h-11.6zM1088.4 625.1l5.8 10.7h-11.6zM1087 621.6l5.8 10.7h-11.6zM1091.5 618.2l5.8 10.7h-11.6zM1096.4 614.8l5.8 10.7h-11.6zM1097.3 611.4l5.8 10.7h-11.6zM1102.1 607.9l5.8 10.7h-11.6zM1100.5 604.5l5.8 10.7h-11.6zM1108.3 601.1l5.8 10.7h-11.6zM1106.1 597.6l5.8 10.7h-11.6zM1111.2 594.2l5.8 10.7h-11.6zM1112.1 590.8l5.8 10.7h-11.6zM1118.3 587.3l5.8 10.7h-11.6zM1118.4 583.9l5.8 10.7h-11.6zM1122.2 580.5l5.8 10.7h-11.6zM1124.9 577.1l5.8 10.7h-11.6zM1129.4 573.6l5.8 10.7h-11.6zM1128.4 570.2l5.8 10.7h-11.6zM1131.7 566.8l5.8 10.7h-11.6zM1131 563.3l5.8 10.7h-11.6zM1130.3 559.9l5.8 10.7h-11.6zM1135.9 556.5l5.8 10.7h-11.6zM1134.6 553l5.8 10.7h-11.6zM1135.5 549.6l5.8 10.7h-11.6zM1136.9 546.2l5.8 10.7h-11.6zM1141.2 542.7l5.8 10.7h-11.6zM1140.8 539.3l5.8 10.7h-11.6zM1146.1 535.9l5.8 10.7h-11.6zM1147.3 532.5l5.8 10.7h-11.6zM1144.1 529l5.8 10.7h-11.6zM1144.4 525.6l5.8 10.7h-11.6zM1148 522.2l5.8 10.7h-11.6zM1148 518.7l5.8 10.7h-11.6zM1152.2 515.3l5.8 10.7h-11.6zM1155.8 511.9l5.8 10.7h-11.6zM1154.6 508.4l5.8 10.7h-11.6zM1157.6 505l5.8 10.7h-11.6zM1162.6 501.6l5.8 10.7h-11.6zM1162.7 498.1l5.8 10.7h-11.6zM1164.9 494.7l5.8 10.7h-11.6zM1169.9 491.3l5.8 10.7h-11.6zM1169.4 487.9l5.8 10.7h-11.6zM1169.9 484.4l5.8 10.7h-11.6zM1167.9 481l5.8 10.7h-11.6zM1164.6 477.6l5.8 10.7h-11.6zM1164.5 474.1l5.8 10.7h-11.6zM1163.5 470.7l5.8 10.7h-11.6zM1160.7 467.3l5.8 10.7h-11.6zM1156.7 463.8l5.8 10.7h-11.6zM1155.5 460.4l5.8 10.7h-11.6zM1154.8 457l5.8 10.7h-11.6zM1155.5 453.6l5.8 10.7h-11.6zM1152.9 450.1l5.8 10.7h-11.6zM1151.5 446.7l5.8 10.7h-11.6zM1151.8 443.3l5.8 10.7h-11.6zM1144.5 439.8l5.8 10.7h-11.6zM1144 436.4l5.8 10.7h-11.6zM1138.9 433l5.8 10.7h-11.6zM1136.7 429.5l5.8 10.7h-11.6zM1138.3 426.1l5.8 10.7h-11.6zM1135.8 422.7l5.8 10.7h-11.6zM1140.6 419.2l5.8 10.7h-11.6zM1136.5 415.8l5.8 10.7h-11.6zM1140.1 412.4l5.8 10.7h-11.6zM1141.3 409l5.8 10.7h-11.6zM1140.9 405.5l5.8 10.7h-11.6zM1144.2 402.1l5.8 10.7h-11.6zM1145 398.7l5.8 10.7h-11.6zM1146.3 395.2l5.8 10.7h-11.6zM1149.2 391.8l5.8 10.7h-11.6zM1146.8 388.4l5.8 10.7h-11.6zM1150.7 384.9l5.8 10.7h-11.6zM1154.7 381.5l5.8 10.7h-11.6zM1152.7 378.1l5.8 10.7h-11.6zM1158.6 374.7l5.8 10.7h-11.6zM1156.2 371.2l5.8 10.7h-11.6zM1159.6 367.8l5.8 10.7h-11.6zM1157.4 364.4l5.8 10.7h-11.6zM1159.7 360.9l5.8 10.7h-11.6zM1160.2 357.5l5.8 10.7h-11.6zM1158.9 354.1l5.8 10.7h-11.6zM1162.7 350.6l5.8 10.7h-11.6zM1161.1 347.2l5.8 10.7h-11.6zM1161.9 343.8l5.8 10.7h-11.6zM1160.7 340.3l5.8 10.7h-11.6zM1160.5 336.9l5.8 10.7h-11.6zM1160 333.5l5.8 10.7h-11.6zM1157.7 330.1l5.8 10.7h-11.6zM1159.9 326.6l5.8 10.7h-11.6zM1154.1 323.2l5.8 10.7h-11.6zM1157.4 319.8l5.8 10.7h-11.6zM1156.1 316.3l5.8 10.7h-11.6zM1152.8 312.9l5.8 10.7h-11.6zM1153.3 309.5l5.8 10.7h-11.6zM1151.6 306l5.8 10.7h-11.6zM1150.1 302.6l5.8 10.7h-11.6zM1147.2 299.2l5.8 10.7h-11.6zM1144.6 295.7l5.8 10.7h-11.6zM1141.7 292.3l5.8 10.7h-11.6zM1138.4 288.9l5.8 10.7h-11.6zM1139.8 285.5l5.8 10.7h-11.6zM1136.6 282l5.8 10.7h-11.6zM1137.2 278.6l5.8 10.7h-11.6zM1137.7 275.2l5.8 10.7h-11.6zM1140.3 271.7l5.8 10.7h-11.6zM1138.7 268.3l5.8 10.7h-11.6zM1139.5 264.9l5.8 10.7h-11.6zM1137.9 261.4l5.8 10.7h-11.6zM1136.3 258l5.8 10.7h-11.6zM1133.6 254.6l5.8 10.7h-11.6zM1132.6 251.2l5.8 10.7h-11.6zM1131.9 247.7l5.8 10.7h-11.6zM1135 244.3l5.8 10.7h-11.6zM1132.6 240.9l5.8 10.7h-11.6zM1130 237.4l5.8 10.7h-11.6zM1132 234l5.8 10.7h-11.6zM1130 230.6l5.8 10.7h-11.6zM1132.6 227.1l5.8 10.7h-11.6zM1130.9 223.7l5.8 10.7h-11.6zM1131.2 220.3l5.8 10.7h-11.6zM1125.7 216.8l5.8 10.7h-11.6zM1127.1 213.4l5.8 10.7h-11.6zM1121.3 210l5.8 10.7h-11.6zM1123.1 206.6l5.8 10.7h-11.6zM1118.7 203.1l5.8 10.7h-11.6zM1112.2 199.7l5.8 10.7h-11.6zM1112.5 196.3l5.8 10.7h-11.6zM1105.3 192.8l5.8 10.7h-11.6zM1101.6 189.4l5.8 10.7h-11.6zM1098.7 186l5.8 10.7h-11.6zM1101.3 182.5l5.8 10.7h-11.6zM1095.7 179.1l5.8 10.7h-11.6zM1098.1 175.7l5.8 10.7h-11.6zM1094.7 172.3l5.8 10.7h-11.6zM1094.9 168.8l5.8 10.7h-11.6zM1091.1 165.4l5.8 10.7h-11.6zM1088.3 162l5.8 10.7h-11.6zM1091.6 158.5l5.8 10.7h-11.6zM1088.7 155.1l5.8 10.7h-11.6zM1084.9 151.7l5.8 10.7h-11.6zM1090 148.2l5.8 10.7h-11.6zM1090.1 144.8l5.8 10.7h-11.6zM1086.4 141.4l5.8 10.7h-11.6zM1086 137.9l5.8 10.7h-11.6zM1089.1 134.5l5.8 10.7h-11.6zM1085.3 131.1l5.8 10.7h-11.6zM1087.7 127.7l5.8 10.7h-11.6zM1085.8 124.2l5.8 10.7h-11.6zM1086.9 120.8l5.8 10.7h-11.6zM1085.9 117.4l5.8 10.7h-11.6zM1086.3 113.9l5.8 10.7h-11.6zM1086.6 110.5l5.8 10.7h-11.6zM1088.4 107.1l5.8 10.7h-11.6zM1091.9 103.6l5.8 10.7h-11.6zM1097.7 100.2l5.8 10.7h-11.6zM1103.9 96.8l5.8 10.7h-11.6zM1106.2 93.4l5.8 10.7h-11.6zM1112.4 89.9l5.8 10.7h-11.6zM1108.6 86.5l5.8 10.7h-11.6zM1104.7 83.1l5.8 10.7h-11.6zM1099.7 79.6l5.8 10.7h-11.6zM1100 76.2l5.8 10.7h-11.6zM1098.1 72.8l5.8 10.7h-11.6zM1101.4 69.3l5.8 10.7h-11.6zM1102.1 65.9l5.8 10.7h-11.6zM1105 62.5l5.8 10.7h-11.6zM1114.1 59l5.8 10.7h-11.6zM1118.3 55.6l5.8 10.7h-11.6zM1119.4 52.2l5.8 10.7h-11.6zM1116.1 48.8l5.8 10.7h-11.6zM1119.9 45.3l5.8 10.7h-11.6zM1120.9 41.9l5.8 10.7h-11.6zM1121.3 38.5l5.8 10.7h-11.6z"/></g><line x1="315.3" y1="106.5" x2="361" y2="106.5" stroke="#000" stroke-width="1.2"/><rect x="333.4" y="101.5" width="10" height="10" fill="#000"/><text x="368" y="113.7" class="lg">Whole campaign</text><line x1="315.3" y1="131.4" x2="361" y2="131.4" stroke="#f00" stroke-width="1.2"/><circle cx="338.4" cy="131.4" r="5.6" fill="#f00"/><text x="368" y="138.6" class="lg">Daytime</text><line x1="315.3" y1="156.4" x2="361" y2="156.4" stroke="#00f" stroke-width="1.2"/><path d="M338.4 148.9l6.5 11.3h-13z" fill="#00f"/><text x="368" y="163.6" class="lg">Nighttime</text><line x1="796.2" y1="106.5" x2="841.6" y2="106.5" stroke="#000" stroke-width="1.2"/><rect x="813.9" y="101.5" width="10" height="10" fill="#000"/><text x="848.7" y="113.7" class="lg">Whole campaign</text><line x1="796.2" y1="131.4" x2="841.6" y2="131.4" stroke="#f00" stroke-width="1.2"/><circle cx="818.9" cy="131.4" r="5.6" fill="#f00"/><text x="848.7" y="138.6" class="lg">Daytime</text><line x1="796.2" y1="156.4" x2="841.6" y2="156.4" stroke="#00f" stroke-width="1.2"/><path d="M818.9 148.9l6.5 11.3h-13z" fill="#00f"/><text x="848.7" y="163.6" class="lg">Nighttime</text><text x="1" y="26" class="pl">(a)</text><text x="644.5" y="27.2" class="pl">(b)</text><text transform="translate(19.5 399.5) rotate(-90)" text-anchor="middle" textLength="138" lengthAdjust="spacing" class="yt">Height (m)</text><text transform="translate(663.5 399.5) rotate(-90)" text-anchor="middle" textLength="138" lengthAdjust="spacing" class="yt">Height (m)</text><g class="ti"><text x="175" y="897.7" textLength="265" lengthAdjust="spacing">extinction coefficient</text><text x="447" y="897.7" textLength="51" lengthAdjust="spacing">(km</text><text x="499.5" y="886" style="font-size:15px">-1</text><text x="512.5" y="897.7">)</text></g><g class="ti"><text x="961" y="896">O</text><text x="984" y="901.4" style="font-size:15.5px">3</text><text x="998.5" y="896" textLength="87" lengthAdjust="spacing">(ppbv)</text></g></svg></body></html>
